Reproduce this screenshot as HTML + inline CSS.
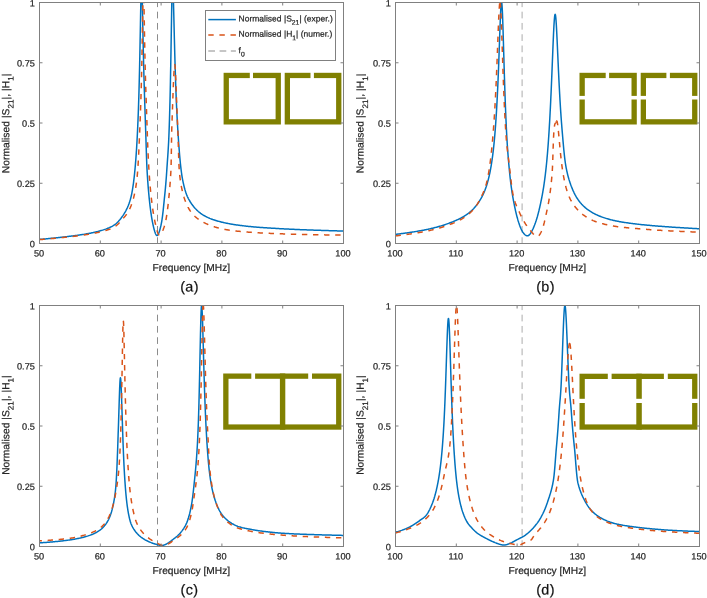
<!DOCTYPE html>
<html><head><meta charset="utf-8"><title>Normalised S21 and H1 versus frequency</title>
<style>
html,body{margin:0;padding:0;background:#fff;}
svg{display:block;will-change:transform;}
text{font-family:"Liberation Sans",Arial,Helvetica,sans-serif;fill:#262626;stroke:#262626;stroke-width:0.22px;}
.tk{font-size:9.2px;}
.lb{font-size:10.2px;}
.cap{font-size:14.4px;fill:#111;letter-spacing:0.35px;}
.lg{font-size:8.5px;}
</style></head><body>
<svg width="707" height="598" viewBox="0 0 707 598">
<rect width="707" height="598" fill="#fff"/>
<g opacity="0.999">
<g id="plot-a">
<clipPath id="clip-a"><rect x="39.5" y="2.5" width="304.0" height="241.0"/></clipPath>
<line x1="157.5" y1="2.5" x2="157.5" y2="243.5" stroke="#8c8c8c" stroke-width="1.0" stroke-dasharray="6.7 4.58" stroke-dashoffset="2.1"/>
<polyline clip-path="url(#clip-a)" points="39.50,239.40 40.26,239.34 41.02,239.28 41.78,239.21 42.54,239.15 43.30,239.08 44.06,239.02 44.82,238.95 45.58,238.88 46.34,238.81 47.10,238.74 47.86,238.67 48.62,238.60 49.38,238.52 50.14,238.45 50.90,238.37 51.66,238.30 52.42,238.22 53.18,238.15 53.94,238.07 54.70,237.99 55.46,237.91 56.22,237.83 56.98,237.75 57.74,237.67 58.50,237.58 59.26,237.50 60.02,237.42 60.78,237.33 61.54,237.25 62.30,237.16 63.06,237.07 63.82,236.99 64.58,236.90 65.34,236.81 66.10,236.72 66.86,236.63 67.62,236.54 68.38,236.45 69.14,236.36 69.90,236.27 70.66,236.18 71.42,236.08 72.18,235.99 72.94,235.89 73.70,235.80 74.46,235.70 75.22,235.60 75.98,235.50 76.74,235.39 77.50,235.29 78.26,235.18 79.02,235.07 79.78,234.96 80.54,234.85 81.30,234.73 82.06,234.61 82.82,234.49 83.58,234.37 84.34,234.25 85.10,234.12 85.86,233.99 86.62,233.86 87.38,233.72 88.14,233.58 88.90,233.44 89.66,233.29 90.42,233.14 91.18,232.99 91.94,232.84 92.70,232.68 93.46,232.51 94.22,232.34 94.98,232.17 95.74,231.99 96.50,231.81 97.26,231.62 98.02,231.42 98.78,231.22 99.54,231.01 100.30,230.80 101.06,230.58 101.82,230.35 102.58,230.12 103.34,229.89 104.10,229.64 104.86,229.39 105.62,229.13 106.38,228.85 107.14,228.57 107.90,228.27 108.66,227.96 109.42,227.64 110.18,227.29 110.94,226.93 111.70,226.55 112.46,226.15 113.22,225.71 113.98,225.22 114.74,224.68 115.50,224.09 116.26,223.45 117.02,222.76 117.78,222.01 118.54,221.22 119.30,220.37 120.06,219.47 120.82,218.51 121.58,217.50 122.34,216.43 123.10,215.31 123.40,214.84 123.56,214.61 123.71,214.37 123.86,214.13 124.01,213.89 124.16,213.64 124.32,213.39 124.47,213.14 124.62,212.89 124.77,212.64 124.92,212.38 125.08,212.12 125.23,211.86 125.38,211.59 125.53,211.32 125.68,211.04 125.84,210.76 125.99,210.48 126.14,210.19 126.29,209.90 126.44,209.61 126.60,209.30 126.75,209.00 126.90,208.69 127.05,208.37 127.20,208.04 127.36,207.71 127.51,207.38 127.66,207.04 127.81,206.69 127.96,206.33 128.12,205.96 128.27,205.59 128.42,205.21 128.57,204.82 128.72,204.42 128.88,204.01 129.03,203.59 129.18,203.16 129.33,202.72 129.48,202.27 129.64,201.81 129.79,201.33 129.94,200.85 130.09,200.34 130.24,199.83 130.40,199.30 130.55,198.75 130.70,198.19 130.85,197.61 131.00,197.00 131.16,196.37 131.31,195.71 131.46,195.02 131.61,194.30 131.76,193.56 131.92,192.78 132.07,191.98 132.22,191.14 132.37,190.28 132.52,189.38 132.68,188.44 132.83,187.48 132.98,186.48 133.13,185.44 133.28,184.36 133.44,183.25 133.59,182.09 133.74,180.90 133.89,179.66 134.04,178.38 134.20,177.05 134.35,175.67 134.50,174.25 134.65,172.77 134.80,171.24 134.96,169.65 135.11,168.00 135.26,166.30 135.41,164.52 135.56,162.68 135.72,160.78 135.87,158.79 136.02,156.73 136.17,154.58 136.32,152.35 136.48,150.03 136.63,147.60 136.78,145.08 136.93,142.44 137.08,139.69 137.24,136.81 137.39,133.79 137.54,130.64 137.69,127.33 137.84,123.87 138.00,120.25 138.15,116.43 138.30,112.41 138.45,108.16 138.60,103.67 138.76,98.91 138.91,93.85 139.06,88.49 139.21,82.78 139.36,76.73 139.52,70.30 139.67,63.49 139.82,56.30 139.97,48.74 140.12,40.87 140.28,32.74 140.43,24.48 140.58,16.24 140.73,8.24 140.88,0.77 141.04,-5.85 141.19,-11.24 141.34,-15.04 141.49,-16.95 141.64,-16.78 141.80,-14.75 141.95,-11.20 142.10,-6.28 142.25,-0.26 142.40,6.56 142.56,13.90 142.71,21.49 142.86,29.12 143.01,36.64 143.16,43.93 143.32,50.93 143.47,57.60 143.62,63.96 143.77,69.99 143.92,75.72 144.08,81.19 144.23,86.42 144.38,91.46 144.53,96.32 144.68,101.05 144.84,105.68 144.99,110.24 145.14,114.75 145.29,119.23 145.44,123.70 145.60,128.19 145.75,132.76 145.90,137.61 146.05,142.58 146.20,147.54 146.36,152.34 146.51,156.88 146.66,161.09 146.81,164.89 146.96,168.23 147.12,171.10 147.27,173.73 147.42,176.22 147.57,178.57 147.72,180.79 147.88,182.91 148.03,184.92 148.18,186.85 148.33,188.71 148.48,190.49 148.64,192.21 148.79,193.87 148.94,195.49 149.09,197.06 149.24,198.58 149.40,200.06 149.55,201.49 149.70,202.88 149.85,204.23 150.00,205.54 150.16,206.80 150.31,208.03 150.46,209.22 150.61,210.38 150.76,211.50 150.92,212.59 150.95,212.80 151.07,213.65 151.22,214.67 151.25,214.87 151.37,215.66 151.52,216.62 151.55,216.81 151.68,217.56 151.83,218.46 151.86,218.64 151.98,219.34 152.13,220.19 152.16,220.36 152.28,221.02 152.44,221.82 152.47,221.98 152.59,222.60 152.74,223.35 152.77,223.50 152.89,224.08 153.04,224.79 153.07,224.93 153.20,225.49 153.35,226.17 153.38,226.30 153.50,226.82 153.65,227.46 153.68,227.59 153.80,228.09 153.96,228.69 153.99,228.81 154.11,229.27 154.17,229.50 154.26,229.84 154.29,229.95 154.32,230.06 154.41,230.38 154.47,230.59 154.56,230.90 154.59,231.00 154.62,231.10 154.72,231.40 154.78,231.60 154.87,231.88 154.90,231.97 154.93,232.07 155.02,232.34 155.08,232.51 155.17,232.77 155.20,232.85 155.23,232.93 155.32,233.17 155.38,233.33 155.48,233.55 155.51,233.63 155.54,233.70 155.63,233.90 155.69,234.04 155.78,234.23 155.81,234.29 155.84,234.35 155.93,234.52 155.99,234.63 156.08,234.78 156.11,234.82 156.14,234.87 156.24,235.00 156.30,235.08 156.39,235.19 156.42,235.22 156.45,235.25 156.54,235.34 156.60,235.39 156.69,235.45 156.72,235.46 156.75,235.48 156.84,235.52 156.90,235.53 157.00,235.55 157.03,235.55 157.06,235.55 157.15,235.53 157.21,235.52 157.30,235.48 157.33,235.47 157.36,235.45 157.45,235.39 157.51,235.34 157.60,235.26 157.63,235.23 157.66,235.20 157.76,235.09 157.82,235.01 157.91,234.89 157.94,234.84 157.97,234.80 158.06,234.65 158.12,234.55 158.21,234.38 158.24,234.32 158.27,234.26 158.36,234.08 158.42,233.95 158.52,233.75 158.55,233.68 158.58,233.61 158.67,233.39 158.73,233.24 158.82,233.01 158.85,232.93 158.88,232.85 158.97,232.60 159.03,232.43 159.12,232.17 159.15,232.08 159.18,231.99 159.28,231.71 159.34,231.53 159.43,231.24 159.46,231.14 159.49,231.04 159.58,230.74 159.64,230.54 159.73,230.22 159.76,230.12 159.79,230.01 159.88,229.68 159.94,229.46 160.07,229.01 160.10,228.90 160.25,228.31 160.34,227.95 160.37,227.83 160.40,227.71 160.55,227.08 160.67,226.56 160.70,226.43 160.86,225.77 160.98,225.22 161.01,225.08 161.10,224.66 161.16,224.37 161.28,223.79 161.31,223.65 161.46,222.88 161.59,222.23 161.62,222.07 161.77,221.19 161.86,220.64 161.89,220.45 161.92,220.25 162.07,219.26 162.19,218.42 162.22,218.21 162.38,217.10 162.50,216.17 162.53,215.93 162.62,215.20 162.68,214.71 162.80,213.69 162.83,213.43 162.98,212.10 163.11,211.01 163.14,210.73 163.29,209.31 163.38,208.44 163.44,207.85 163.59,206.37 163.74,204.86 163.90,203.34 164.05,201.81 164.14,200.90 164.20,200.29 164.35,198.79 164.50,197.32 164.66,195.88 164.81,194.41 164.90,193.51 164.96,192.90 165.11,191.35 165.26,189.75 165.42,188.10 165.57,186.40 165.66,185.36 165.72,184.65 165.87,182.83 166.02,180.95 166.18,179.01 166.33,176.99 166.42,175.75 166.48,174.90 166.63,172.72 166.78,170.46 166.94,168.15 167.09,165.90 167.18,164.58 167.24,163.70 167.39,161.53 167.54,159.36 167.70,157.19 167.85,154.97 167.94,153.61 168.00,152.68 168.15,150.30 168.30,147.78 168.46,145.08 168.61,142.18 168.70,140.31 168.76,139.00 168.91,135.52 169.06,131.65 169.22,127.39 169.37,122.84 169.46,119.97 169.52,118.00 169.67,112.83 169.82,107.32 169.98,101.43 170.13,95.14 170.22,91.16 170.28,88.42 170.43,81.25 170.58,73.62 170.74,65.53 170.89,57.01 170.98,51.71 171.04,48.11 171.19,38.92 171.34,29.58 171.50,20.29 171.65,11.31 171.74,6.21 171.80,2.98 171.95,-4.35 172.10,-10.29 172.26,-14.51 172.41,-16.78 172.50,-17.12 172.56,-17.10 172.71,-16.24 172.86,-14.24 173.02,-11.22 173.17,-7.30 173.26,-4.59 173.32,-2.65 173.47,2.60 173.62,8.27 173.78,14.25 173.93,20.39 174.02,24.11 174.08,26.60 174.23,32.80 174.38,38.92 174.54,44.91 174.69,50.74 174.78,54.15 174.84,56.38 174.99,61.82 175.14,67.04 175.30,72.05 175.45,76.85 175.54,79.63 175.60,81.44 175.75,85.82 175.90,90.01 176.06,94.02 176.21,97.85 176.30,100.06 176.36,101.51 176.51,105.01 176.66,108.37 176.82,111.59 176.97,114.69 177.06,116.48 177.12,117.66 177.27,120.52 177.42,123.27 177.58,125.93 177.73,128.49 177.82,129.99 177.88,130.97 178.03,133.39 178.18,135.75 178.34,138.04 178.49,140.27 178.58,141.59 178.64,142.45 178.79,144.56 178.94,146.62 179.10,148.61 179.25,150.55 179.34,151.68 179.40,152.43 179.55,154.25 179.70,156.02 179.86,157.73 180.01,159.39 180.10,160.35 180.16,160.99 180.31,162.53 180.46,164.03 180.62,165.46 180.77,166.85 180.86,167.66 180.92,168.19 181.07,169.47 181.22,170.70 181.38,171.88 181.53,173.01 181.62,173.67 181.68,174.09 181.83,175.12 181.98,176.10 182.14,177.04 182.29,177.92 182.38,178.43 182.44,178.76 182.59,179.57 182.74,180.36 182.90,181.12 183.05,181.86 183.14,182.29 183.20,182.58 183.35,183.28 183.50,183.96 183.66,184.62 183.81,185.27 183.90,185.65 183.96,185.90 184.11,186.51 184.26,187.11 184.42,187.69 184.57,188.26 184.66,188.59 184.72,188.81 184.87,189.35 185.02,189.88 185.18,190.40 185.33,190.90 185.42,191.20 185.48,191.40 185.63,191.88 185.78,192.35 185.94,192.80 186.09,193.24 186.18,193.49 186.24,193.66 186.39,194.08 186.54,194.48 186.70,194.87 186.85,195.25 186.94,195.47 187.00,195.62 187.15,195.98 187.30,196.33 187.46,196.67 187.61,197.01 187.70,197.20 187.76,197.33 187.91,197.65 188.06,197.96 188.22,198.27 188.37,198.57 188.46,198.74 188.52,198.86 188.67,199.14 188.82,199.42 188.98,199.70 189.13,199.97 189.22,200.13 189.28,200.23 189.43,200.49 189.58,200.75 189.74,201.00 189.89,201.25 189.98,201.40 190.04,201.50 190.19,201.74 190.34,201.98 190.50,202.22 190.65,202.45 190.74,202.59 191.50,203.74 192.26,204.82 193.02,205.84 193.78,206.79 194.54,207.69 195.30,208.54 196.06,209.34 196.82,210.09 197.58,210.80 198.34,211.47 199.10,212.11 199.86,212.72 200.62,213.29 201.38,213.83 202.14,214.35 202.90,214.84 203.66,215.30 204.42,215.74 205.18,216.16 205.94,216.56 206.70,216.95 207.46,217.31 208.22,217.67 208.98,218.00 209.74,218.33 210.50,218.64 211.26,218.93 212.02,219.22 212.78,219.50 213.54,219.76 214.30,220.02 215.06,220.27 215.82,220.51 216.58,220.74 217.34,220.96 218.10,221.18 218.86,221.39 219.62,221.59 220.38,221.79 221.14,221.98 221.90,222.17 222.66,222.35 223.42,222.53 224.18,222.70 224.94,222.87 225.70,223.03 226.46,223.19 227.22,223.34 227.98,223.49 228.74,223.63 229.50,223.77 230.26,223.91 231.02,224.05 231.78,224.18 232.54,224.30 233.30,224.43 234.06,224.55 234.82,224.66 235.58,224.78 236.34,224.89 237.10,225.00 237.86,225.11 238.62,225.21 239.38,225.31 240.14,225.41 240.90,225.51 241.66,225.60 242.42,225.70 243.18,225.79 243.94,225.88 244.70,225.97 245.46,226.05 246.22,226.13 246.98,226.22 247.74,226.30 248.50,226.38 249.26,226.45 250.02,226.53 250.78,226.61 251.54,226.68 252.30,226.75 253.06,226.82 253.82,226.89 254.58,226.96 255.34,227.02 256.10,227.09 256.86,227.15 257.62,227.21 258.38,227.27 259.14,227.33 259.90,227.39 260.66,227.45 261.42,227.50 262.18,227.56 262.94,227.61 263.70,227.66 264.46,227.72 265.22,227.77 265.98,227.82 266.74,227.87 267.50,227.91 268.26,227.96 269.02,228.01 269.78,228.06 270.54,228.10 271.30,228.15 272.06,228.20 272.82,228.24 273.58,228.28 274.34,228.33 275.10,228.37 275.86,228.42 276.62,228.46 277.38,228.50 278.14,228.54 278.90,228.59 279.66,228.63 280.42,228.67 281.18,228.71 281.94,228.76 282.70,228.80 283.46,228.84 284.22,228.88 284.98,228.92 285.74,228.96 286.50,229.00 287.26,229.04 288.02,229.08 288.78,229.12 289.54,229.15 290.30,229.19 291.06,229.23 291.82,229.26 292.58,229.30 293.34,229.33 294.10,229.37 294.86,229.40 295.62,229.43 296.38,229.47 297.14,229.50 297.90,229.53 298.66,229.56 299.42,229.60 300.18,229.63 300.94,229.66 301.70,229.69 302.46,229.72 303.22,229.75 303.98,229.78 304.74,229.81 305.50,229.84 306.26,229.87 307.02,229.89 307.78,229.92 308.54,229.95 309.30,229.98 310.06,230.00 310.82,230.03 311.58,230.06 312.34,230.09 313.10,230.11 313.86,230.14 314.62,230.17 315.38,230.19 316.14,230.22 316.90,230.24 317.66,230.27 318.42,230.29 319.18,230.32 319.94,230.34 320.70,230.37 321.46,230.39 322.22,230.42 322.98,230.44 323.74,230.47 324.50,230.49 325.26,230.52 326.02,230.54 326.78,230.56 327.54,230.59 328.30,230.61 329.06,230.64 329.82,230.66 330.58,230.68 331.34,230.71 332.10,230.73 332.86,230.76 333.62,230.78 334.38,230.80 335.14,230.83 335.90,230.85 336.66,230.87 337.42,230.90 338.18,230.92 338.94,230.95 339.70,230.97 340.46,230.99 341.22,231.02 341.98,231.04 342.74,231.06 343.50,231.09" fill="none" stroke="#0072BD" stroke-width="1.5" stroke-linejoin="round"/>
<polyline clip-path="url(#clip-a)" points="39.50,239.64 40.26,239.59 41.02,239.53 41.78,239.47 42.54,239.40 43.30,239.34 44.06,239.28 44.82,239.22 45.58,239.15 46.34,239.09 47.10,239.02 47.86,238.96 48.62,238.89 49.38,238.82 50.14,238.75 50.90,238.68 51.66,238.61 52.42,238.54 53.18,238.47 53.94,238.40 54.70,238.32 55.46,238.25 56.22,238.18 56.98,238.10 57.74,238.03 58.50,237.95 59.26,237.87 60.02,237.80 60.78,237.72 61.54,237.64 62.30,237.56 63.06,237.48 63.82,237.40 64.58,237.32 65.34,237.24 66.10,237.16 66.86,237.08 67.62,237.00 68.38,236.92 69.14,236.83 69.90,236.75 70.66,236.67 71.42,236.58 72.18,236.50 72.94,236.41 73.70,236.32 74.46,236.23 75.22,236.14 75.98,236.05 76.74,235.96 77.50,235.86 78.26,235.77 79.02,235.67 79.78,235.57 80.54,235.47 81.30,235.36 82.06,235.26 82.82,235.15 83.58,235.04 84.34,234.93 85.10,234.82 85.86,234.70 86.62,234.58 87.38,234.46 88.14,234.34 88.90,234.21 89.66,234.08 90.42,233.95 91.18,233.82 91.94,233.68 92.70,233.54 93.46,233.40 94.22,233.25 94.98,233.10 95.74,232.95 96.50,232.79 97.26,232.63 98.02,232.46 98.78,232.29 99.54,232.11 100.30,231.93 101.06,231.75 101.82,231.56 102.58,231.37 103.34,231.17 104.10,230.96 104.86,230.75 105.62,230.54 106.38,230.31 107.14,230.08 107.90,229.83 108.66,229.58 109.42,229.31 110.18,229.03 110.94,228.73 111.70,228.41 112.46,228.08 113.22,227.70 113.98,227.27 114.74,226.79 115.50,226.25 116.26,225.66 117.02,225.02 117.78,224.33 118.54,223.60 119.30,222.83 120.06,222.02 120.82,221.18 121.58,220.32 122.34,219.44 123.10,218.54 123.86,217.64 124.62,216.75 125.23,216.02 125.38,215.83 125.53,215.64 125.68,215.44 125.84,215.24 125.99,215.04 126.14,214.84 126.29,214.63 126.44,214.42 126.60,214.20 126.75,213.98 126.90,213.76 127.05,213.53 127.20,213.30 127.36,213.07 127.51,212.83 127.66,212.59 127.81,212.34 127.96,212.09 128.12,211.83 128.27,211.57 128.42,211.31 128.57,211.04 128.72,210.76 128.88,210.48 129.03,210.20 129.18,209.90 129.33,209.61 129.48,209.30 129.64,208.99 129.79,208.67 129.94,208.35 130.09,208.02 130.24,207.68 130.40,207.34 130.55,206.99 130.70,206.63 130.85,206.26 131.00,205.88 131.16,205.50 131.31,205.10 131.46,204.70 131.61,204.29 131.76,203.86 131.92,203.43 132.07,202.99 132.22,202.53 132.37,202.07 132.52,201.59 132.68,201.10 132.83,200.59 132.98,200.07 133.13,199.54 133.28,198.99 133.44,198.43 133.59,197.85 133.74,197.25 133.89,196.64 134.04,196.01 134.20,195.36 134.35,194.68 134.50,193.99 134.65,193.28 134.80,192.54 134.96,191.77 135.11,190.98 135.26,190.17 135.41,189.32 135.56,188.44 135.72,187.54 135.87,186.59 136.02,185.62 136.17,184.60 136.32,183.55 136.48,182.45 136.63,181.31 136.78,180.12 136.93,178.83 137.08,177.40 137.24,175.83 137.39,174.12 137.54,172.27 137.69,170.28 137.84,168.14 138.00,165.87 138.15,163.46 138.30,160.91 138.45,158.22 138.60,155.40 138.76,152.44 138.91,149.36 139.06,146.16 139.21,142.84 139.36,139.40 139.52,135.86 139.67,132.22 139.82,128.49 139.97,124.71 140.12,120.86 140.28,116.92 140.43,112.86 140.58,108.64 140.73,104.23 140.88,99.59 141.04,94.67 141.19,89.44 141.34,83.84 141.49,77.83 141.64,71.36 141.80,64.41 141.95,56.94 142.10,48.97 142.25,40.54 142.40,31.77 142.56,22.85 142.71,14.10 142.86,5.95 143.01,-1.06 143.16,-6.32 143.32,-9.28 143.47,-9.55" fill="none" stroke="#D95319" stroke-width="1.5" stroke-dasharray="5.4 5.7" stroke-dashoffset="0.00" stroke-linejoin="round"/>
<polyline clip-path="url(#clip-a)" points="143.47,-9.55 143.62,-7.30 143.77,-2.92 143.92,3.23 144.08,10.67 144.23,18.85 144.38,27.33 144.53,35.75 144.68,43.86 144.84,51.53 144.99,58.70 145.14,65.35 145.29,71.51 145.44,77.24 145.60,82.58 145.75,87.60 145.90,92.37 146.05,96.95 146.20,101.40 146.36,105.78 146.51,110.14 146.66,114.51 146.81,118.94 146.96,123.46 147.12,128.10 147.27,132.79 147.42,137.21 147.57,141.36 147.72,145.27 147.88,148.95 148.03,152.42 148.18,155.70 148.33,158.80 148.48,161.75 148.64,164.54 148.79,167.20 148.94,169.72 149.09,172.13 149.24,174.43 149.40,176.63 149.55,178.73 149.70,180.74 149.85,182.67 150.00,184.52 150.16,186.29 150.31,188.00 150.46,189.64 150.61,191.23 150.76,192.75 150.92,194.22 151.07,195.64 151.22,197.02 151.37,198.35 151.52,199.65 151.68,200.93 151.83,202.16 151.98,203.37 152.13,204.56 152.28,205.71 152.44,206.83 152.59,207.93 152.74,209.00 152.89,210.04 153.04,211.06 153.20,212.05 153.35,213.02 153.38,213.21 153.50,213.96 153.65,214.88 153.68,215.06 153.80,215.78 153.96,216.65 153.99,216.82 154.11,217.50 154.26,218.32 154.29,218.49 154.41,219.13 154.56,219.91 154.59,220.06 154.72,220.67 154.87,221.41 154.90,221.55 155.02,222.13 155.17,222.82 155.20,222.96 155.32,223.50 155.48,224.17 155.51,224.30 155.63,224.84 155.78,225.53 155.81,225.66 155.93,226.20 156.08,226.87 156.11,227.01 156.24,227.53 156.36,228.05 156.39,228.18 156.42,228.31 156.51,228.68 156.54,228.81 156.66,229.29 156.69,229.41 156.72,229.53 156.81,229.88 156.84,229.99 156.97,230.44 157.00,230.55 157.03,230.66 157.12,230.97 157.15,231.08 157.27,231.48 157.30,231.58 157.33,231.67 157.42,231.95 157.45,232.05 157.57,232.40 157.60,232.48 157.63,232.57 157.73,232.81 157.76,232.89 157.88,233.19 157.91,233.26 157.94,233.33 158.03,233.53 158.06,233.60 158.18,233.84 158.21,233.90 158.24,233.96 158.33,234.12 158.36,234.17 158.49,234.36 158.52,234.41 158.55,234.45 158.64,234.57 158.67,234.61 158.79,234.74 158.82,234.77 158.85,234.80 158.94,234.88 158.97,234.90 159.09,234.98 159.12,234.99 159.15,235.01 159.25,235.04 159.28,235.05 159.40,235.07 159.43,235.07 159.46,235.06 159.55,235.06 159.58,235.05 159.70,235.02 159.73,235.02 159.76,235.01 159.85,234.97 159.88,234.96 160.01,234.90 160.04,234.88 160.07,234.86 160.16,234.80 160.19,234.78 160.31,234.69 160.34,234.66 160.37,234.64 160.46,234.55 160.49,234.52 160.61,234.40 160.64,234.37 160.67,234.34 160.77,234.23 160.80,234.20 160.92,234.04 160.95,234.00 160.98,233.96 161.07,233.84 161.10,233.80 161.22,233.62 161.25,233.58 161.28,233.53 161.37,233.39 161.40,233.34 161.53,233.14 161.56,233.09 161.59,233.03 161.68,232.87 161.71,232.82 161.83,232.60 161.86,232.54 161.89,232.48 161.98,232.30 162.13,232.00 162.19,231.88 162.29,231.68 162.44,231.36 162.50,231.22 162.59,231.01 162.62,230.95 162.74,230.66 162.80,230.52 162.89,230.30 163.05,229.92 163.11,229.76 163.20,229.53 163.35,229.13 163.38,229.05 163.41,228.96 163.50,228.71 163.65,228.29 163.71,228.11 163.81,227.85 163.96,227.40 164.02,227.21 164.11,226.93 164.14,226.84 164.26,226.45 164.32,226.26 164.41,225.96 164.57,225.45 164.63,225.24 164.72,224.93 164.87,224.39 164.90,224.28 164.93,224.17 165.02,223.84 165.17,223.27 165.23,223.03 165.33,222.66 165.48,222.02 165.54,221.75 165.63,221.34 165.66,221.20 165.78,220.62 165.93,219.87 166.09,219.07 166.24,218.23 166.39,217.36 166.42,217.18 166.54,216.44 166.69,215.48 166.85,214.48 167.00,213.44 167.15,212.35 167.18,212.13 167.30,211.23 167.45,210.06 167.61,208.85 167.76,207.61 167.91,206.32 167.94,206.06 168.06,205.00 168.21,203.65 168.37,202.26 168.52,200.84 168.67,199.40 168.70,199.11 168.82,197.93 168.97,196.45 169.13,194.91 169.28,193.32 169.43,191.66 169.46,191.32 169.58,189.93 169.73,188.12 169.89,186.23 170.04,184.25 170.19,182.17 170.22,181.74 170.34,179.98 170.49,177.68 170.65,175.26 170.80,172.70 170.95,170.00 170.98,169.36 171.10,165.42 171.25,157.85 171.41,148.39 171.56,138.65 171.71,131.01 171.74,129.99 171.86,126.35 172.01,121.87 172.17,117.46 172.32,113.13 172.47,108.87 172.50,108.02 172.62,104.67 172.77,100.53 172.93,96.46 173.08,92.48 173.23,88.59 173.26,87.83 173.38,84.84 173.53,81.26 173.69,77.90 173.84,74.81 173.99,72.06 174.02,71.55 174.14,69.68 174.29,67.73 174.45,66.22 174.60,65.16" fill="none" stroke="#D95319" stroke-width="1.5" stroke-dasharray="5.4 5.7" stroke-dashoffset="3.59" stroke-linejoin="round"/>
<polyline clip-path="url(#clip-a)" points="174.60,65.16 174.75,64.64 174.78,64.63 174.90,64.97 175.05,66.14 175.21,68.04 175.36,70.57 175.51,73.60 175.54,74.26 175.66,77.01 175.81,80.68 175.97,84.51 176.12,88.42 176.27,92.36 176.30,93.15 176.42,96.28 176.57,100.16 176.73,103.98 176.88,107.74 177.03,111.43 177.06,112.17 177.18,115.07 177.33,118.67 177.49,122.22 177.64,125.76 177.79,129.28 177.82,129.99 177.94,133.10 178.09,137.64 178.25,142.61 178.40,147.72 178.55,152.73 178.58,153.71 178.70,157.46 178.85,161.74 179.01,165.47 179.16,168.53 179.31,170.84 179.34,171.20 179.46,172.55 179.61,174.12 179.77,175.59 179.92,176.95 180.07,178.23 180.10,178.47 180.22,179.42 180.37,180.53 180.53,181.58 180.68,182.57 180.83,183.51 180.86,183.69 180.98,184.40 181.13,185.24 181.29,186.05 181.44,186.83 181.59,187.58 181.62,187.73 181.74,188.31 181.89,189.02 182.05,189.71 182.20,190.39 182.35,191.07 182.38,191.20 182.50,191.73 182.65,192.37 182.81,192.99 182.96,193.59 183.11,194.16 183.14,194.28 183.26,194.72 183.41,195.26 183.57,195.79 183.72,196.30 183.87,196.80 183.90,196.90 184.02,197.28 184.17,197.76 184.33,198.22 184.48,198.68 184.63,199.12 184.66,199.21 184.78,199.56 184.93,199.99 185.09,200.41 185.24,200.83 185.39,201.24 185.42,201.32 185.54,201.65 185.69,202.05 185.85,202.44 186.00,202.82 186.15,203.19 186.18,203.26 186.30,203.55 186.45,203.91 186.61,204.26 186.76,204.60 186.91,204.94 186.94,205.00 187.06,205.26 187.21,205.59 187.37,205.90 187.52,206.21 187.67,206.52 187.70,206.58 187.82,206.82 187.97,207.11 188.13,207.40 188.28,207.68 188.43,207.96 188.46,208.01 188.58,208.23 188.73,208.50 188.89,208.76 189.04,209.02 189.19,209.27 189.22,209.32 189.34,209.52 189.49,209.77 189.65,210.01 189.80,210.25 189.95,210.48 189.98,210.52 190.10,210.71 190.25,210.93 190.41,211.16 190.56,211.37 190.71,211.59 190.74,211.63 190.86,211.80 191.01,212.01 191.17,212.21 191.32,212.41 191.47,212.61 191.50,212.65 191.62,212.81 191.77,213.00 191.93,213.19 192.08,213.37 192.23,213.56 192.26,213.59 192.38,213.74 192.53,213.91 192.69,214.09 192.84,214.26 193.02,214.46 193.78,215.27 194.54,216.02 195.30,216.72 196.06,217.38 196.82,218.00 197.58,218.59 198.34,219.14 199.10,219.67 199.86,220.18 200.62,220.66 201.38,221.12 202.14,221.57 202.90,222.00 203.66,222.41 204.42,222.81 205.18,223.20 205.94,223.57 206.70,223.92 207.46,224.26 208.22,224.59 208.98,224.90 209.74,225.20 210.50,225.49 211.26,225.77 212.02,226.04 212.78,226.30 213.54,226.55 214.30,226.79 215.06,227.03 215.82,227.25 216.58,227.47 217.34,227.68 218.10,227.88 218.86,228.08 219.62,228.27 220.38,228.45 221.14,228.63 221.90,228.80 222.66,228.96 223.42,229.12 224.18,229.27 224.94,229.42 225.70,229.56 226.46,229.69 227.22,229.82 227.98,229.95 228.74,230.06 229.50,230.18 230.26,230.29 231.02,230.40 231.78,230.50 232.54,230.60 233.30,230.70 234.06,230.79 234.82,230.88 235.58,230.97 236.34,231.06 237.10,231.14 237.86,231.22 238.62,231.29 239.38,231.37 240.14,231.44 240.90,231.51 241.66,231.58 242.42,231.65 243.18,231.72 243.94,231.78 244.70,231.84 245.46,231.90 246.22,231.96 246.98,232.02 247.74,232.08 248.50,232.14 249.26,232.20 250.02,232.25 250.78,232.31 251.54,232.36 252.30,232.41 253.06,232.47 253.82,232.52 254.58,232.57 255.34,232.62 256.10,232.67 256.86,232.71 257.62,232.76 258.38,232.80 259.14,232.84 259.90,232.89 260.66,232.93 261.42,232.97 262.18,233.01 262.94,233.05 263.70,233.09 264.46,233.12 265.22,233.16 265.98,233.20 266.74,233.23 267.50,233.26 268.26,233.30 269.02,233.33 269.78,233.36 270.54,233.40 271.30,233.43 272.06,233.46 272.82,233.49 273.58,233.52 274.34,233.55 275.10,233.58 275.86,233.61 276.62,233.64 277.38,233.67 278.14,233.69 278.90,233.72 279.66,233.75 280.42,233.78 281.18,233.81 281.94,233.83 282.70,233.86 283.46,233.89 284.22,233.91 284.98,233.94 285.74,233.96 286.50,233.99 287.26,234.01 288.02,234.04 288.78,234.06 289.54,234.09 290.30,234.11 291.06,234.13 291.82,234.15 292.58,234.17 293.34,234.20 294.10,234.22 294.86,234.24 295.62,234.26 296.38,234.28 297.14,234.30 297.90,234.32 298.66,234.34 299.42,234.36 300.18,234.38 300.94,234.39 301.70,234.41 302.46,234.43 303.22,234.45 303.98,234.47 304.74,234.48 305.50,234.50 306.26,234.52 307.02,234.53 307.78,234.55 308.54,234.57 309.30,234.58 310.06,234.60 310.82,234.61 311.58,234.63 312.34,234.64 313.10,234.66 313.86,234.67 314.62,234.69 315.38,234.70 316.14,234.72 316.90,234.73 317.66,234.74 318.42,234.76 319.18,234.77 319.94,234.79 320.70,234.80 321.46,234.81 322.22,234.83 322.98,234.84 323.74,234.85 324.50,234.86 325.26,234.88 326.02,234.89 326.78,234.90 327.54,234.91 328.30,234.93 329.06,234.94 329.82,234.95 330.58,234.96 331.34,234.98 332.10,234.99 332.86,235.00 333.62,235.01 334.38,235.02 335.14,235.04 335.90,235.05 336.66,235.06 337.42,235.07 338.18,235.08 338.94,235.09 339.70,235.10 340.46,235.12 341.22,235.13 341.98,235.14 342.74,235.15 343.50,235.16" fill="none" stroke="#D95319" stroke-width="1.5" stroke-dasharray="5.4 5.7" stroke-dashoffset="0.00" stroke-linejoin="round"/>
<rect x="226.25" y="75.45" width="51.999999999999986" height="46.400000000000006" fill="none" stroke="#808000" stroke-width="5.3"/>
<rect x="287.34999999999997" y="75.45" width="51.39999999999999" height="46.400000000000006" fill="none" stroke="#808000" stroke-width="5.3"/>
<rect x="249.8" y="71.8" width="3.1999999999999886" height="7.3" fill="#fff"/>
<rect x="310.5" y="71.8" width="3.3999999999999773" height="7.3" fill="#fff"/>
<rect x="39.5" y="2.5" width="304.0" height="241.0" fill="none" stroke="#808080" stroke-width="1.0"/>
<path d="M100.30 243.5v-3M100.30 2.5v3M161.10 243.5v-3M161.10 2.5v3M221.90 243.5v-3M221.90 2.5v3M282.70 243.5v-3M282.70 2.5v3M39.5 183.25h3M343.5 183.25h-3M39.5 123.00h3M343.5 123.00h-3M39.5 62.75h3M343.5 62.75h-3" stroke="#808080" stroke-width="1.0" fill="none"/>
<text class="tk" transform="rotate(0.05 39.00 256.4)" x="39.00" y="256.4" text-anchor="middle">50</text>
<text class="tk" transform="rotate(0.05 99.80 256.4)" x="99.80" y="256.4" text-anchor="middle">60</text>
<text class="tk" transform="rotate(0.05 160.60 256.4)" x="160.60" y="256.4" text-anchor="middle">70</text>
<text class="tk" transform="rotate(0.05 221.40 256.4)" x="221.40" y="256.4" text-anchor="middle">80</text>
<text class="tk" transform="rotate(0.05 282.20 256.4)" x="282.20" y="256.4" text-anchor="middle">90</text>
<text class="tk" transform="rotate(0.05 343.00 256.4)" x="343.00" y="256.4" text-anchor="middle">100</text>
<text class="tk" transform="rotate(0.05 34.9 247.30)" x="34.9" y="247.30" text-anchor="end">0</text>
<text class="tk" transform="rotate(0.05 34.9 187.05)" x="34.9" y="187.05" text-anchor="end">0.25</text>
<text class="tk" transform="rotate(0.05 34.9 126.80)" x="34.9" y="126.80" text-anchor="end">0.5</text>
<text class="tk" transform="rotate(0.05 34.9 66.55)" x="34.9" y="66.55" text-anchor="end">0.75</text>
<text class="tk" transform="rotate(0.05 34.9 6.60)" x="34.9" y="6.60" text-anchor="end">1</text>
<text class="lb" transform="rotate(0.05 191.3 271.0)" x="191.3" y="271.0" text-anchor="middle">Frequency [MHz]</text>
<text class="cap" transform="rotate(0.05 189.5 291.5)" x="189.5" y="291.5" text-anchor="middle">(a)</text>
<text class="lb" letter-spacing="0.07" transform="translate(9.2,123.4) rotate(-89.95)" text-anchor="middle">Normalised |S<tspan dy="4.3" font-size="8.0">21</tspan><tspan dy="-4.3">|, |H</tspan><tspan dy="4.3" font-size="8.0">1</tspan><tspan dy="-4.3">|</tspan></text>
</g>
<g id="plot-b">
<clipPath id="clip-b"><rect x="395.5" y="2.5" width="304.0" height="241.0"/></clipPath>
<line x1="522.1" y1="2.5" x2="522.1" y2="243.5" stroke="#8c8c8c" stroke-width="0.72" stroke-dasharray="6.7 4.58" stroke-dashoffset="2.1"/>
<polyline clip-path="url(#clip-b)" points="395.50,234.34 396.26,234.25 397.02,234.16 397.78,234.07 398.54,233.98 399.30,233.89 400.06,233.79 400.82,233.70 401.58,233.60 402.34,233.50 403.10,233.40 403.86,233.30 404.62,233.20 405.38,233.10 406.14,232.99 406.90,232.89 407.66,232.78 408.42,232.67 409.18,232.56 409.94,232.45 410.70,232.34 411.46,232.22 412.22,232.11 412.98,231.99 413.74,231.87 414.50,231.75 415.26,231.62 416.02,231.50 416.78,231.37 417.54,231.24 418.30,231.11 419.06,230.98 419.82,230.84 420.58,230.71 421.34,230.57 422.10,230.43 422.86,230.29 423.62,230.14 424.38,229.99 425.14,229.84 425.90,229.69 426.66,229.54 427.42,229.38 428.18,229.21 428.94,229.05 429.70,228.88 430.46,228.71 431.22,228.53 431.98,228.35 432.74,228.17 433.50,227.98 434.26,227.79 435.02,227.59 435.78,227.39 436.54,227.19 437.30,226.98 438.06,226.77 438.82,226.55 439.58,226.33 440.34,226.11 441.10,225.88 441.86,225.65 442.62,225.41 443.38,225.17 444.14,224.92 444.90,224.67 445.66,224.41 446.42,224.15 447.18,223.89 447.94,223.62 448.70,223.34 449.46,223.06 450.22,222.77 450.98,222.48 451.74,222.18 452.50,221.88 453.26,221.57 454.02,221.25 454.78,220.93 455.54,220.60 456.30,220.27 457.06,219.92 457.82,219.57 458.58,219.21 459.34,218.84 460.10,218.46 460.86,218.06 461.62,217.66 462.38,217.24 463.14,216.80 463.90,216.35 464.66,215.88 465.42,215.40 466.18,214.90 466.94,214.37 467.70,213.82 468.46,213.25 469.22,212.66 469.98,212.03 470.74,211.38 471.50,210.69 472.26,209.97 473.02,209.22 473.78,208.43 474.54,207.60 475.30,206.72 476.06,205.81 476.82,204.84 477.58,203.83 478.34,202.75 479.10,201.62 479.86,200.42 480.62,199.16 481.38,197.81 482.14,196.39 482.90,194.87 483.48,193.65 483.63,193.31 483.66,193.24 483.78,192.97 483.93,192.63 484.09,192.27 484.24,191.92 484.39,191.56 484.42,191.48 484.54,191.19 484.69,190.81 484.85,190.43 485.00,190.04 485.15,189.65 485.18,189.57 485.30,189.25 485.45,188.84 485.61,188.42 485.76,188.00 485.91,187.57 485.94,187.48 486.06,187.13 486.21,186.68 486.37,186.22 486.52,185.75 486.67,185.27 486.70,185.18 486.82,184.79 486.97,184.29 487.13,183.79 487.28,183.27 487.43,182.75 487.46,182.64 487.58,182.22 487.73,181.67 487.89,181.12 488.04,180.55 488.19,179.97 488.22,179.85 488.34,179.38 488.49,178.78 488.65,178.16 488.80,177.54 488.95,176.90 488.98,176.77 489.10,176.24 489.25,175.57 489.41,174.89 489.56,174.19 489.71,173.48 489.74,173.33 489.86,172.75 490.01,172.00 490.17,171.23 490.32,170.45 490.47,169.65 490.50,169.49 490.62,168.83 490.77,167.99 490.93,167.13 491.08,166.25 491.23,165.34 491.26,165.16 491.38,164.42 491.53,163.47 491.69,162.49 491.84,161.49 491.99,160.46 492.02,160.26 492.14,159.41 492.29,158.33 492.45,157.21 492.60,156.07 492.75,154.89 492.78,154.65 492.90,153.68 493.05,152.44 493.21,151.16 493.36,149.84 493.51,148.48 493.54,148.20 493.66,147.08 493.81,145.64 493.97,144.15 494.12,142.62 494.27,141.03 494.30,140.71 494.42,139.40 494.57,137.71 494.73,135.97 494.88,134.17 495.03,132.31 495.06,131.93 495.18,130.38 495.33,128.39 495.49,126.35 495.64,124.25 495.79,122.08 495.82,121.64 495.94,119.85 496.09,117.54 496.25,115.17 496.40,112.71 496.55,110.18 496.58,109.66 496.70,107.56 496.85,104.85 497.01,102.06 497.16,99.16 497.31,96.17 497.34,95.56 497.46,93.08 497.61,89.88 497.77,86.58 497.92,83.16 498.07,79.64 498.10,78.92 498.22,76.01 498.37,72.26 498.53,68.41 498.68,64.46 498.83,60.41 498.86,59.58 498.98,56.27 499.13,52.06 499.29,47.79 499.44,43.48 499.59,39.16 499.62,38.30 499.74,34.86 499.89,30.61 500.05,26.46 500.20,22.45 500.35,18.63 500.38,17.90 500.50,15.07 500.65,11.81 500.81,8.93 500.96,6.48 501.11,4.53 501.14,4.20 501.26,3.12 501.41,2.29 501.57,2.08 501.72,2.50 501.87,3.56 501.90,3.85 502.02,5.27 502.17,7.59 502.33,10.47 502.48,13.88 502.63,17.74 502.66,18.56 502.78,21.99 502.93,26.56 503.09,31.39 503.24,36.42 503.39,41.57 503.42,42.61 503.54,46.81 503.69,52.07 503.85,57.33 504.00,62.55 504.15,67.70 504.18,68.72 504.30,72.76 504.45,77.70 504.61,82.52 504.76,87.21 504.91,91.75 504.94,92.65 505.06,96.16 505.21,100.41 505.37,104.52 505.52,108.48 505.67,112.30 505.70,113.05 505.82,115.98 505.97,119.52 506.13,122.93 506.28,126.21 506.43,129.37 506.46,129.99 506.58,132.39 506.73,135.26 506.89,137.98 507.04,140.56 507.19,143.03 507.22,143.51 507.34,145.38 507.49,147.63 507.65,149.79 507.80,151.87 507.95,153.87 507.98,154.26 508.10,155.80 508.25,157.67 508.41,159.49 508.56,161.26 508.71,162.99 508.74,163.34 508.86,164.69 509.01,166.35 509.17,167.98 509.32,169.60 509.47,171.18 509.50,171.50 509.62,172.73 509.77,174.22 509.93,175.68 510.08,177.09 510.23,178.46 510.26,178.72 510.38,179.79 510.53,181.08 510.69,182.34 510.84,183.56 510.99,184.76 511.02,184.99 511.14,185.92 511.29,187.05 511.45,188.15 511.60,189.22 511.75,190.27 511.78,190.48 511.90,191.29 512.05,192.29 512.21,193.26 512.36,194.21 512.51,195.14 512.54,195.32 512.66,196.04 512.81,196.93 512.97,197.79 513.12,198.64 513.27,199.47 513.30,199.63 513.42,200.28 513.57,201.08 513.73,201.88 513.88,202.67 514.03,203.46 514.06,203.61 514.18,204.23 514.33,205.00 514.49,205.76 514.64,206.51 514.79,207.26 514.82,207.40 514.94,207.99 515.09,208.71 515.25,209.42 515.40,210.12 515.55,210.81 515.58,210.94 515.70,211.48 515.85,212.14 516.01,212.80 516.16,213.44 516.31,214.06 516.34,214.19 516.46,214.68 516.61,215.28 516.77,215.87 516.92,216.44 517.07,217.00 517.10,217.11 517.22,217.55 517.37,218.09 517.53,218.62 517.68,219.14 517.83,219.65 517.86,219.76 517.98,220.16 518.13,220.67 518.29,221.17 518.44,221.66 518.59,222.14 518.62,222.24 518.74,222.62 518.89,223.09 519.05,223.55 519.20,224.01 519.35,224.45 519.38,224.54 519.50,224.89 519.65,225.32 519.81,225.73 519.96,226.14 520.14,226.62 520.90,228.48 521.66,230.10 521.96,230.69 522.27,231.24 522.42,231.50 522.57,231.75 522.88,232.23 523.18,232.67 523.48,233.08 523.79,233.46 523.94,233.64 524.09,233.81 524.40,234.14 524.70,234.44 525.00,234.72 525.31,234.97 525.46,235.09 525.61,235.19 525.92,235.39 526.22,235.55 526.52,235.67 526.83,235.76 526.98,235.79 527.13,235.81 527.44,235.82 527.74,235.79 528.04,235.71 528.35,235.59 528.50,235.50 528.65,235.41 528.96,235.19 529.26,234.92 529.56,234.61 529.87,234.26 530.02,234.07 530.17,233.88 530.48,233.45 530.78,233.00 531.08,232.51 531.39,231.99 531.54,231.72 531.69,231.45 532.00,230.88 532.30,230.28 532.60,229.66 532.91,229.02 533.06,228.69 533.21,228.35 533.52,227.66 533.82,226.95 534.58,225.06 535.34,223.01 536.10,220.79 536.74,218.76 536.86,218.36 536.89,218.26 537.04,217.74 537.19,217.22 537.35,216.69 537.50,216.15 537.62,215.72 537.65,215.61 537.80,215.05 537.95,214.48 538.11,213.91 538.26,213.33 538.38,212.86 538.41,212.74 538.56,212.14 538.71,211.53 538.87,210.92 539.02,210.29 539.14,209.79 539.17,209.66 539.32,209.02 539.47,208.37 539.63,207.72 539.78,207.05 539.90,206.51 539.93,206.38 540.08,205.70 540.23,205.01 540.39,204.31 540.54,203.61 540.66,203.04 540.69,202.90 540.84,202.18 540.99,201.46 541.15,200.73 541.30,199.99 541.42,199.40 541.45,199.25 541.60,198.49 541.75,197.73 541.91,196.95 542.06,196.15 542.18,195.50 542.21,195.34 542.36,194.52 542.51,193.68 542.67,192.82 542.82,191.95 542.94,191.24 542.97,191.06 543.12,190.15 543.27,189.23 543.43,188.28 543.58,187.32 543.70,186.53 543.73,186.34 543.88,185.33 544.03,184.31 544.19,183.26 544.34,182.19 544.46,181.31 544.49,181.09 544.64,179.98 544.79,178.83 544.95,177.66 545.10,176.46 545.22,175.49 545.25,175.24 545.40,173.98 545.55,172.70 545.71,171.38 545.86,170.03 545.98,168.93 546.01,168.65 546.16,167.23 546.31,165.77 546.47,164.28 546.62,162.75 546.74,161.49 546.77,161.17 546.92,159.56 547.07,157.90 547.23,156.19 547.38,154.44 547.50,153.00 547.53,152.64 547.68,150.78 547.83,148.88 547.99,146.92 548.14,144.90 548.26,143.24 548.29,142.82 548.44,140.68 548.59,138.48 548.75,136.21 548.90,133.88 549.02,131.96 549.05,131.47 549.20,128.99 549.35,126.45 549.51,123.84 549.66,121.17 549.78,118.99 549.81,118.43 549.96,115.63 550.11,112.75 550.27,109.80 550.42,106.77 550.54,104.30 550.57,103.68 550.72,100.50 550.87,97.26 551.03,93.93 551.18,90.54 551.30,87.77 551.33,87.07 551.48,83.54 551.63,79.94 551.79,76.28 551.94,72.57 552.06,69.57 552.09,68.81 552.24,65.03 552.39,61.22 552.55,57.40 552.70,53.60 552.82,50.58 552.85,49.82 553.00,46.10 553.15,42.45 553.31,38.90 553.46,35.47 553.58,32.84 553.61,32.20 553.76,29.12 553.91,26.26 554.07,23.64 554.22,21.30 554.34,19.65 554.37,19.26 554.52,17.55 554.67,16.19 554.83,15.18 554.98,14.55 555.10,14.32 555.13,14.30 555.28,14.44 555.43,14.97 555.59,15.87 555.74,17.13 555.86,18.38 555.89,18.72 556.04,20.62 556.19,22.80 556.35,25.23 556.50,27.89 556.62,30.15 556.65,30.73 556.80,33.73 556.95,36.86 557.11,40.09 557.26,43.41 557.38,46.10 557.41,46.77 557.56,50.18 557.71,53.60 557.87,57.01 558.02,60.42 558.14,63.12 558.17,63.79 558.32,67.14 558.47,70.43 558.63,73.67 558.78,76.86 558.90,79.37 558.93,79.99 559.08,83.05 559.23,86.04 559.39,88.96 559.54,91.81 559.66,94.05 559.69,94.60 559.84,97.31 559.99,99.95 560.15,102.52 560.30,105.03 560.42,106.98 560.45,107.47 560.60,109.84 560.75,112.15 560.91,114.39 561.06,116.58 561.18,118.29 561.21,118.71 561.36,120.78 561.51,122.80 561.67,124.76 561.82,126.67 561.94,128.16 561.97,128.53 562.12,130.35 562.27,132.15 562.43,133.96 562.58,135.76 562.70,137.20 562.73,137.56 562.88,139.33 563.03,141.09 563.19,142.83 563.34,144.53 563.46,145.88 563.49,146.21 563.64,147.85 563.79,149.45 563.95,151.00 564.10,152.52 564.22,153.69 564.25,153.98 564.40,155.40 564.55,156.76 564.71,158.07 564.86,159.33 564.98,160.29 565.01,160.52 565.16,161.66 565.31,162.74 565.47,163.75 565.62,164.70 565.74,165.42 565.77,165.59 565.92,166.44 566.07,167.26 566.23,168.06 566.38,168.84 566.50,169.44 566.53,169.59 566.68,170.33 566.83,171.04 566.99,171.74 567.14,172.42 567.26,172.95 567.29,173.08 567.44,173.73 567.59,174.36 567.75,174.97 567.90,175.57 568.02,176.04 568.05,176.15 568.20,176.72 568.35,177.28 568.51,177.83 568.66,178.36 568.78,178.78 568.81,178.89 568.96,179.40 569.11,179.90 569.27,180.39 569.42,180.88 569.54,181.26 569.57,181.35 569.72,181.82 569.87,182.27 570.03,182.73 570.18,183.17 570.30,183.52 570.33,183.60 570.48,184.03 570.63,184.46 570.79,184.88 570.94,185.29 571.06,185.61 571.09,185.70 571.24,186.10 571.39,186.50 571.55,186.89 571.70,187.28 571.82,187.59 571.85,187.66 572.00,188.05 572.15,188.42 572.31,188.79 572.46,189.16 572.58,189.45 572.61,189.52 572.76,189.87 572.91,190.22 573.07,190.57 573.22,190.91 573.34,191.18 574.10,192.79 574.86,194.30 575.62,195.70 576.38,197.02 577.14,198.25 577.90,199.40 578.66,200.47 579.42,201.48 580.18,202.44 580.94,203.34 581.70,204.19 582.46,204.99 583.22,205.76 583.98,206.48 584.74,207.17 585.50,207.83 586.26,208.46 587.02,209.06 587.78,209.63 588.54,210.18 589.30,210.70 590.06,211.21 590.82,211.69 591.58,212.15 592.34,212.60 593.10,213.03 593.86,213.44 594.62,213.84 595.38,214.22 596.14,214.59 596.90,214.94 597.66,215.29 598.42,215.62 599.18,215.94 599.94,216.25 600.70,216.55 601.46,216.84 602.22,217.12 602.98,217.39 603.74,217.65 604.50,217.90 605.26,218.15 606.02,218.39 606.78,218.62 607.54,218.84 608.30,219.06 609.06,219.27 609.82,219.48 610.58,219.68 611.34,219.87 612.10,220.05 612.86,220.23 613.62,220.41 614.38,220.58 615.14,220.74 615.90,220.90 616.66,221.06 617.42,221.21 618.18,221.35 618.94,221.50 619.70,221.64 620.46,221.77 621.22,221.90 621.98,222.03 622.74,222.16 623.50,222.28 624.26,222.40 625.02,222.52 625.78,222.63 626.54,222.74 627.30,222.85 628.06,222.96 628.82,223.07 629.58,223.17 630.34,223.27 631.10,223.37 631.86,223.47 632.62,223.57 633.38,223.66 634.14,223.75 634.90,223.85 635.66,223.94 636.42,224.03 637.18,224.12 637.94,224.21 638.70,224.29 639.46,224.38 640.22,224.46 640.98,224.55 641.74,224.63 642.50,224.71 643.26,224.79 644.02,224.86 644.78,224.94 645.54,225.01 646.30,225.09 647.06,225.16 647.82,225.23 648.58,225.30 649.34,225.37 650.10,225.44 650.86,225.51 651.62,225.57 652.38,225.64 653.14,225.70 653.90,225.77 654.66,225.83 655.42,225.89 656.18,225.95 656.94,226.02 657.70,226.08 658.46,226.14 659.22,226.19 659.98,226.25 660.74,226.31 661.50,226.37 662.26,226.42 663.02,226.48 663.78,226.54 664.54,226.59 665.30,226.65 666.06,226.70 666.82,226.76 667.58,226.81 668.34,226.87 669.10,226.92 669.86,226.97 670.62,227.03 671.38,227.08 672.14,227.13 672.90,227.18 673.66,227.23 674.42,227.28 675.18,227.33 675.94,227.38 676.70,227.43 677.46,227.48 678.22,227.53 678.98,227.57 679.74,227.62 680.50,227.67 681.26,227.71 682.02,227.76 682.78,227.81 683.54,227.85 684.30,227.90 685.06,227.94 685.82,227.99 686.58,228.03 687.34,228.08 688.10,228.12 688.86,228.16 689.62,228.21 690.38,228.25 691.14,228.29 691.90,228.33 692.66,228.38 693.42,228.42 694.18,228.46 694.94,228.50 695.70,228.54 696.46,228.59 697.22,228.63 697.98,228.67 698.74,228.71 699.50,228.75" fill="none" stroke="#0072BD" stroke-width="1.5" stroke-linejoin="round"/>
<polyline clip-path="url(#clip-b)" points="395.50,235.91 396.26,235.82 397.02,235.73 397.78,235.64 398.54,235.55 399.30,235.46 400.06,235.36 400.82,235.27 401.58,235.17 402.34,235.07 403.10,234.97 403.86,234.87 404.62,234.77 405.38,234.67 406.14,234.56 406.90,234.46 407.66,234.35 408.42,234.24 409.18,234.13 409.94,234.02 410.70,233.91 411.46,233.79 412.22,233.68 412.98,233.56 413.74,233.44 414.50,233.32 415.26,233.19 416.02,233.07 416.78,232.94 417.54,232.82 418.30,232.69 419.06,232.55 419.82,232.42 420.58,232.29 421.34,232.15 422.10,232.01 422.86,231.87 423.62,231.72 424.38,231.58 425.14,231.43 425.90,231.28 426.66,231.13 427.42,230.97 428.18,230.81 428.94,230.65 429.70,230.48 430.46,230.31 431.22,230.14 431.98,229.96 432.74,229.78 433.50,229.59 434.26,229.40 435.02,229.21 435.78,229.01 436.54,228.81 437.30,228.60 438.06,228.39 438.82,228.17 439.58,227.96 440.34,227.73 441.10,227.50 441.86,227.27 442.62,227.03 443.38,226.79 444.14,226.54 444.90,226.29 445.66,226.03 446.42,225.77 447.18,225.50 447.94,225.23 448.70,224.95 449.46,224.66 450.22,224.37 450.98,224.07 451.74,223.77 452.50,223.46 453.26,223.15 454.02,222.82 454.78,222.49 455.54,222.15 456.30,221.81 457.06,221.46 457.82,221.09 458.58,220.72 459.34,220.33 460.10,219.93 460.86,219.51 461.62,219.08 462.38,218.64 463.14,218.17 463.90,217.69 464.66,217.19 465.42,216.67 466.18,216.12 466.94,215.56 467.70,214.96 468.46,214.34 469.22,213.69 469.98,213.00 470.74,212.28 471.50,211.52 472.26,210.72 473.02,209.87 473.78,208.99 474.54,208.05 475.30,207.06 476.06,206.01 476.82,204.90 477.58,203.72 478.34,202.47 479.10,201.13 479.86,199.71 480.62,198.19 481.38,196.62 481.84,195.67 481.99,195.35 482.14,195.03 482.29,194.70 482.44,194.38 482.60,194.05 482.75,193.71 482.90,193.37 483.05,193.03 483.20,192.69 483.36,192.33 483.51,191.98 483.66,191.61 483.81,191.24 483.96,190.87 484.12,190.48 484.27,190.09 484.42,189.69 484.57,189.28 484.72,188.86 484.88,188.44 485.03,188.00 485.18,187.55 485.33,187.09 485.48,186.61 485.64,186.12 485.79,185.62 485.94,185.11 486.09,184.58 486.24,184.03 486.40,183.47 486.55,182.89 486.70,182.29 486.85,181.67 487.00,181.03 487.16,180.37 487.31,179.69 487.46,178.99 487.61,178.27 487.76,177.52 487.92,176.76 488.07,175.97 488.22,175.16 488.37,174.32 488.52,173.47 488.68,172.59 488.83,171.68 488.98,170.75 489.13,169.79 489.28,168.81 489.44,167.80 489.59,166.77 489.74,165.71 489.89,164.62 490.04,163.50 490.20,162.35 490.35,161.17 490.50,159.96 490.65,158.72 490.80,157.44 490.96,156.14 491.11,154.80 491.26,153.42 491.41,152.01 491.56,150.57 491.72,149.08 491.87,147.56 492.02,146.00 492.17,144.40 492.32,142.75 492.48,141.07 492.63,139.34 492.78,137.56 492.93,135.74 493.08,133.87 493.24,131.96 493.39,129.99 493.54,127.97 493.69,125.90 493.84,123.78 494.00,121.60 494.15,119.36 494.30,117.06 494.45,114.70 494.60,112.26 494.76,109.75 494.91,107.17 495.06,104.51 495.21,101.77 495.36,98.94 495.52,96.03 495.67,93.03 495.82,89.94 495.97,86.75 496.12,83.47 496.28,80.09 496.43,76.62 496.58,73.05 496.73,69.39 496.88,65.64 497.04,61.81 497.19,57.91 497.34,53.94 497.49,49.91 497.64,45.86 497.80,41.79 497.95,37.72 498.10,33.69 498.25,29.73 498.40,25.86 498.56,22.14 498.71,18.61 498.86,15.30 499.01,12.27 499.16,9.57 499.32,7.24 499.47,5.33 499.62,3.87 499.77,2.90 499.92,2.44 500.08,2.50" fill="none" stroke="#D95319" stroke-width="1.5" stroke-dasharray="5.4 5.7" stroke-dashoffset="0.00" stroke-linejoin="round"/>
<polyline clip-path="url(#clip-b)" points="500.08,2.50 500.23,3.10 500.38,4.24 500.53,5.91 500.68,8.08 500.84,10.71 500.99,13.75 501.14,17.16 501.29,20.88 501.44,24.87 501.60,29.08 501.75,33.44 501.90,37.93 502.05,42.49 502.20,47.09 502.36,51.70 502.51,56.29 502.66,60.84 502.81,65.33 502.96,69.74 503.12,74.05 503.27,78.27 503.42,82.38 503.57,86.37 503.72,90.25 503.88,94.02 504.03,97.66 504.18,101.19 504.33,104.60 504.48,107.89 504.64,111.07 504.79,114.15 504.94,117.12 505.09,119.98 505.24,122.75 505.40,125.42 505.55,127.99 505.70,130.48 505.85,132.82 506.00,135.01 506.16,137.06 506.31,138.99 506.46,140.80 506.61,142.51 506.76,144.13 506.92,145.67 507.07,147.13 507.22,148.54 507.37,149.89 507.52,151.20 507.68,152.47 507.83,153.71 507.98,154.93 508.13,156.14 508.28,157.33 508.44,158.52 508.59,159.71 508.74,160.91 508.89,162.13 509.04,163.36 509.20,164.61 509.35,165.88 509.50,167.18 509.65,168.51 509.80,169.86 509.96,171.23 510.11,172.59 510.26,173.97 510.41,175.33 510.56,176.69 510.72,178.04 510.87,179.37 511.02,180.67 511.17,181.95 511.32,183.21 511.48,184.43 511.63,185.62 511.78,186.77 511.93,187.88 512.08,188.95 512.24,189.98 512.39,190.97 512.54,191.91 512.69,192.80 512.84,193.64 513.00,194.44 513.15,195.18 513.30,195.87 513.45,196.52 513.60,197.13 513.76,197.72 513.91,198.30 514.06,198.85 514.21,199.39 514.36,199.91 514.52,200.42 514.67,200.91 514.82,201.39 514.97,201.85 515.12,202.30 515.28,202.74 515.43,203.17 515.58,203.59 515.73,204.00 515.88,204.40 516.04,204.79 516.19,205.17 516.34,205.55 516.49,205.92 516.64,206.28 516.80,206.64 516.95,206.99 517.10,207.34 517.25,207.69 517.40,208.03 517.56,208.37 517.71,208.70 517.86,209.03 518.01,209.36 518.16,209.69 518.32,210.02 518.62,210.67 519.38,212.29 520.14,213.94 520.90,215.59 521.66,217.15 522.42,218.63 523.18,220.04 523.94,221.38 524.70,222.66 525.46,223.89 526.22,225.05 526.98,226.12 527.74,227.14 528.50,228.11 529.26,229.05 530.02,229.99 530.78,230.91 531.54,231.84 531.63,231.96 531.94,232.33 532.24,232.70 532.30,232.78 532.54,233.07 532.85,233.43 533.06,233.68 533.15,233.79 533.46,234.12 533.76,234.45 533.82,234.51 534.06,234.76 534.37,235.04 534.58,235.23 534.67,235.31 534.98,235.55 535.28,235.77 535.34,235.81 535.58,235.96 535.89,236.11 536.10,236.20 536.19,236.23 536.50,236.32 536.80,236.37 536.86,236.37 537.10,236.38 537.41,236.35 537.62,236.30 537.71,236.27 538.02,236.15 538.08,236.12 538.23,236.03 538.32,235.97 538.38,235.93 538.53,235.82 538.62,235.75 538.68,235.69 538.84,235.56 538.93,235.47 538.99,235.41 539.14,235.24 539.23,235.14 539.29,235.07 539.44,234.88 539.54,234.76 539.60,234.68 539.75,234.46 539.84,234.33 539.90,234.24 540.05,234.00 540.14,233.85 540.20,233.75 540.36,233.48 540.45,233.32 540.51,233.21 540.66,232.92 540.75,232.74 540.81,232.62 540.96,232.30 541.06,232.11 541.12,231.98 541.27,231.64 541.36,231.44 541.42,231.30 541.57,230.94 541.66,230.72 541.72,230.57 541.88,230.18 541.97,229.95 542.03,229.79 542.18,229.39 542.27,229.14 542.33,228.98 542.48,228.55 542.58,228.30 542.64,228.12 542.79,227.68 542.88,227.41 542.94,227.23 543.09,226.76 543.18,226.47 543.24,226.27 543.40,225.76 543.49,225.45 543.55,225.24 543.70,224.70 543.79,224.36 543.85,224.14 544.00,223.56 544.16,222.97 544.31,222.36 544.46,221.73 544.61,221.10 544.76,220.45 544.92,219.78 545.07,219.11 545.22,218.43 545.37,217.74 545.52,217.04 545.68,216.34 545.83,215.64 545.98,214.94 546.13,214.24 546.28,213.54 546.44,212.84 546.59,212.15 546.74,211.45 546.89,210.75 547.04,210.05 547.20,209.34 547.35,208.63 547.50,207.91 547.65,207.18 547.80,206.44 547.96,205.68 548.11,204.92 548.26,204.13 548.41,203.33 548.56,202.51 548.72,201.66 548.87,200.78 549.02,199.88 549.17,198.94 549.32,197.97 549.48,196.95 549.63,195.90 549.78,194.84 549.93,193.75 550.08,192.63 550.24,191.49 550.39,190.31 550.54,189.11 550.69,187.86 550.84,186.57 551.00,185.23 551.15,183.85 551.30,182.40 551.45,180.90 551.60,179.33 551.76,177.68 551.91,175.96 552.06,174.16 552.21,172.24 552.36,169.74 552.52,166.49 552.67,162.61 552.82,158.25 552.97,153.57 553.12,148.79 553.28,144.17 553.43,140.04 553.58,136.74 553.73,134.14 553.88,131.88 554.04,129.94 554.19,128.31 554.34,126.96 554.49,125.87 554.64,125.01 554.80,124.36 554.95,123.88 555.10,123.55 555.25,123.32 555.40,123.18 555.56,123.07 555.71,122.96 555.86,122.82 556.01,122.61 556.16,122.28 556.32,121.80" fill="none" stroke="#D95319" stroke-width="1.5" stroke-dasharray="5.4 5.7" stroke-dashoffset="0.32" stroke-linejoin="round"/>
<polyline clip-path="url(#clip-b)" points="556.32,121.80 556.47,121.32 556.62,121.05 556.77,121.00 556.92,121.16 557.08,121.52 557.23,122.06 557.38,122.79 557.53,123.67 557.68,124.70 557.84,125.86 557.99,127.14 558.14,128.51 558.29,129.97 558.44,131.49 558.60,133.07 558.75,134.69 558.90,136.33 559.05,138.00 559.20,139.68 559.36,141.36 559.51,143.03 559.66,144.69 559.81,146.33 559.96,147.95 560.12,149.53 560.27,151.09 560.42,152.61 560.57,154.09 560.72,155.54 560.88,156.95 561.03,158.32 561.18,159.66 561.33,160.96 561.48,162.23 561.64,163.46 561.79,164.65 561.94,165.81 562.09,166.94 562.24,168.03 562.40,169.10 562.55,170.13 562.70,171.13 562.85,172.10 563.00,173.05 563.16,173.97 563.31,174.86 563.46,175.73 563.61,176.58 563.76,177.40 563.92,178.20 564.07,178.98 564.22,179.74 564.37,180.48 564.52,181.20 564.68,181.90 564.83,182.59 564.98,183.26 565.13,183.91 565.28,184.55 565.44,185.18 565.59,185.79 565.74,186.38 565.74,186.38 565.89,186.97 566.04,187.54 566.20,188.09 566.35,188.63 566.50,189.16 566.65,189.68 566.80,190.18 566.96,190.67 567.11,191.15 567.26,191.62 567.41,192.08 567.56,192.53 567.72,192.97 567.87,193.40 568.02,193.82 568.17,194.23 568.32,194.63 568.48,195.03 568.63,195.41 568.78,195.79 568.93,196.16 569.08,196.53 569.24,196.88 569.39,197.23 569.54,197.57 569.69,197.91 569.84,198.24 570.00,198.56 570.15,198.88 570.30,199.20 570.45,199.50 570.60,199.81 570.76,200.10 570.91,200.39 571.06,200.68 571.21,200.96 571.36,201.24 571.52,201.51 571.67,201.78 571.82,202.05 571.97,202.31 572.12,202.56 572.28,202.81 572.43,203.06 572.58,203.30 572.73,203.54 572.88,203.77 573.04,204.00 573.19,204.22 573.34,204.44 573.49,204.66 573.64,204.87 573.80,205.09 573.95,205.29 574.10,205.50 574.25,205.70 574.40,205.90 574.56,206.10 574.86,206.48 575.62,207.41 576.38,208.30 577.14,209.16 577.90,210.00 578.66,210.81 579.42,211.58 580.18,212.31 580.94,213.00 581.70,213.66 582.46,214.28 583.22,214.88 583.98,215.44 584.74,215.98 585.50,216.50 586.26,216.99 587.02,217.46 587.78,217.92 588.54,218.35 589.30,218.76 590.06,219.16 590.82,219.54 591.58,219.90 592.34,220.25 593.10,220.58 593.86,220.89 594.62,221.19 595.38,221.48 596.14,221.76 596.90,222.03 597.66,222.29 598.42,222.53 599.18,222.77 599.94,223.00 600.70,223.22 601.46,223.43 602.22,223.64 602.98,223.84 603.74,224.03 604.50,224.22 605.26,224.40 606.02,224.58 606.78,224.75 607.54,224.92 608.30,225.09 609.06,225.25 609.82,225.40 610.58,225.55 611.34,225.69 612.10,225.82 612.86,225.95 613.62,226.08 614.38,226.20 615.14,226.32 615.90,226.43 616.66,226.54 617.42,226.64 618.18,226.74 618.94,226.84 619.70,226.94 620.46,227.03 621.22,227.12 621.98,227.20 622.74,227.29 623.50,227.37 624.26,227.45 625.02,227.53 625.78,227.60 626.54,227.68 627.30,227.75 628.06,227.82 628.82,227.89 629.58,227.96 630.34,228.03 631.10,228.10 631.86,228.16 632.62,228.23 633.38,228.29 634.14,228.36 634.90,228.43 635.66,228.49 636.42,228.56 637.18,228.62 637.94,228.69 638.70,228.75 639.46,228.82 640.22,228.88 640.98,228.94 641.74,229.01 642.50,229.07 643.26,229.13 644.02,229.19 644.78,229.25 645.54,229.31 646.30,229.37 647.06,229.43 647.82,229.49 648.58,229.54 649.34,229.60 650.10,229.66 650.86,229.71 651.62,229.76 652.38,229.82 653.14,229.87 653.90,229.92 654.66,229.98 655.42,230.03 656.18,230.08 656.94,230.13 657.70,230.18 658.46,230.23 659.22,230.27 659.98,230.32 660.74,230.37 661.50,230.41 662.26,230.46 663.02,230.51 663.78,230.55 664.54,230.59 665.30,230.64 666.06,230.68 666.82,230.72 667.58,230.77 668.34,230.81 669.10,230.85 669.86,230.89 670.62,230.93 671.38,230.97 672.14,231.01 672.90,231.04 673.66,231.08 674.42,231.12 675.18,231.16 675.94,231.19 676.70,231.23 677.46,231.27 678.22,231.30 678.98,231.34 679.74,231.37 680.50,231.41 681.26,231.44 682.02,231.47 682.78,231.51 683.54,231.54 684.30,231.57 685.06,231.61 685.82,231.64 686.58,231.67 687.34,231.70 688.10,231.73 688.86,231.77 689.62,231.80 690.38,231.83 691.14,231.86 691.90,231.89 692.66,231.92 693.42,231.95 694.18,231.98 694.94,232.00 695.70,232.03 696.46,232.06 697.22,232.09 697.98,232.12 698.74,232.15 699.50,232.17" fill="none" stroke="#D95319" stroke-width="1.5" stroke-dasharray="5.4 5.7" stroke-dashoffset="0.00" stroke-linejoin="round"/>
<rect x="582.15" y="75.45" width="51.99999999999996" height="46.400000000000006" fill="none" stroke="#808000" stroke-width="5.3"/>
<rect x="643.35" y="75.45" width="51.399999999999935" height="46.400000000000006" fill="none" stroke="#808000" stroke-width="5.3"/>
<rect x="605.7" y="71.8" width="3.3999999999999773" height="7.3" fill="#fff"/>
<rect x="666.4" y="71.8" width="3.5" height="7.3" fill="#fff"/>
<rect x="575" y="95.9" width="127" height="3.6" fill="#fff"/>
<rect x="395.5" y="2.5" width="304.0" height="241.0" fill="none" stroke="#808080" stroke-width="1.0"/>
<path d="M456.30 243.5v-3M456.30 2.5v3M517.10 243.5v-3M517.10 2.5v3M577.90 243.5v-3M577.90 2.5v3M638.70 243.5v-3M638.70 2.5v3M395.5 183.25h3M699.5 183.25h-3M395.5 123.00h3M699.5 123.00h-3M395.5 62.75h3M699.5 62.75h-3" stroke="#808080" stroke-width="1.0" fill="none"/>
<text class="tk" transform="rotate(0.05 395.00 256.4)" x="395.00" y="256.4" text-anchor="middle">100</text>
<text class="tk" transform="rotate(0.05 455.80 256.4)" x="455.80" y="256.4" text-anchor="middle">110</text>
<text class="tk" transform="rotate(0.05 516.60 256.4)" x="516.60" y="256.4" text-anchor="middle">120</text>
<text class="tk" transform="rotate(0.05 577.40 256.4)" x="577.40" y="256.4" text-anchor="middle">130</text>
<text class="tk" transform="rotate(0.05 638.20 256.4)" x="638.20" y="256.4" text-anchor="middle">140</text>
<text class="tk" transform="rotate(0.05 699.00 256.4)" x="699.00" y="256.4" text-anchor="middle">150</text>
<text class="tk" transform="rotate(0.05 390.9 247.30)" x="390.9" y="247.30" text-anchor="end">0</text>
<text class="tk" transform="rotate(0.05 390.9 187.05)" x="390.9" y="187.05" text-anchor="end">0.25</text>
<text class="tk" transform="rotate(0.05 390.9 126.80)" x="390.9" y="126.80" text-anchor="end">0.5</text>
<text class="tk" transform="rotate(0.05 390.9 66.55)" x="390.9" y="66.55" text-anchor="end">0.75</text>
<text class="tk" transform="rotate(0.05 390.9 6.60)" x="390.9" y="6.60" text-anchor="end">1</text>
<text class="lb" transform="rotate(0.05 547.3 271.0)" x="547.3" y="271.0" text-anchor="middle">Frequency [MHz]</text>
<text class="cap" transform="rotate(0.05 545.5 291.5)" x="545.5" y="291.5" text-anchor="middle">(b)</text>
<text class="lb" letter-spacing="0.07" transform="translate(363.6,123.4) rotate(-89.95)" text-anchor="middle">Normalised |S<tspan dy="4.3" font-size="8.0">21</tspan><tspan dy="-4.3">|, |H</tspan><tspan dy="4.3" font-size="8.0">1</tspan><tspan dy="-4.3">|</tspan></text>
</g>
<g id="plot-c">
<clipPath id="clip-c"><rect x="39.5" y="305.5" width="304.0" height="241.0"/></clipPath>
<line x1="157.5" y1="305.5" x2="157.5" y2="546.5" stroke="#8c8c8c" stroke-width="1.0" stroke-dasharray="6.7 4.58" stroke-dashoffset="2.1"/>
<polyline clip-path="url(#clip-c)" points="39.50,542.88 40.26,542.83 41.02,542.78 41.78,542.73 42.54,542.68 43.30,542.62 44.06,542.57 44.82,542.51 45.58,542.46 46.34,542.40 47.10,542.34 47.86,542.28 48.62,542.22 49.38,542.16 50.14,542.10 50.90,542.03 51.66,541.97 52.42,541.90 53.18,541.83 53.94,541.76 54.70,541.69 55.46,541.62 56.22,541.54 56.98,541.47 57.74,541.39 58.50,541.31 59.26,541.23 60.02,541.15 60.78,541.07 61.54,540.98 62.30,540.90 63.06,540.81 63.82,540.71 64.58,540.62 65.34,540.52 66.10,540.43 66.86,540.33 67.62,540.22 68.38,540.12 69.14,540.01 69.90,539.90 70.66,539.78 71.42,539.66 72.18,539.54 72.94,539.42 73.70,539.29 74.46,539.16 75.22,539.02 75.98,538.88 76.74,538.74 77.50,538.59 78.26,538.44 79.02,538.28 79.78,538.12 80.54,537.95 81.30,537.77 82.06,537.59 82.82,537.41 83.58,537.22 84.34,537.02 85.10,536.81 85.86,536.59 86.62,536.37 87.38,536.14 88.14,535.90 88.90,535.64 89.66,535.38 90.42,535.11 91.18,534.82 91.94,534.52 92.70,534.21 93.46,533.88 94.22,533.53 94.98,533.16 95.74,532.78 96.50,532.36 97.26,531.93 98.02,531.46 98.78,530.97 99.54,530.44 100.30,529.87 101.06,529.26 101.82,528.59 102.18,528.25 102.34,528.11 102.49,527.96 102.58,527.87 102.64,527.81 102.79,527.66 102.94,527.50 103.10,527.35 103.25,527.19 103.34,527.09 103.40,527.02 103.55,526.86 103.70,526.69 103.86,526.52 104.01,526.35 104.10,526.25 104.16,526.17 104.31,526.00 104.46,525.82 104.62,525.63 104.77,525.44 104.86,525.33 104.92,525.25 105.07,525.06 105.22,524.87 105.38,524.67 105.53,524.46 105.62,524.34 105.68,524.26 105.83,524.05 105.98,523.84 106.14,523.62 106.29,523.40 106.38,523.27 106.44,523.18 106.59,522.95 106.74,522.72 106.90,522.48 107.05,522.24 107.14,522.09 107.20,521.99 107.35,521.74 107.50,521.48 107.66,521.21 107.81,520.94 107.90,520.78 107.96,520.67 108.11,520.38 108.26,520.09 108.42,519.80 108.57,519.49 108.66,519.31 108.72,519.18 108.87,518.86 109.02,518.54 109.18,518.20 109.33,517.86 109.42,517.65 109.48,517.51 109.63,517.15 109.78,516.78 109.94,516.40 110.09,516.00 110.18,515.77 110.24,515.60 110.39,515.19 110.54,514.77 110.70,514.33 110.85,513.88 110.94,513.61 111.00,513.42 111.15,512.94 111.30,512.45 111.46,511.95 111.61,511.43 111.70,511.11 111.76,510.89 111.91,510.33 112.06,509.76 112.22,509.17 112.37,508.56 112.46,508.18 112.52,507.93 112.67,507.28 112.82,506.62 112.98,505.95 113.13,505.26 113.22,504.84 113.28,504.55 113.43,503.82 113.58,503.06 113.74,502.28 113.89,501.47 113.98,500.97 114.04,500.63 114.19,499.75 114.34,498.83 114.50,497.87 114.65,496.86 114.74,496.23 114.80,495.80 114.95,494.68 115.10,493.50 115.26,492.25 115.41,490.94 115.50,490.11 115.56,489.53 115.71,487.93 115.86,486.12 116.02,484.10 116.17,481.87 116.26,480.42 116.32,479.41 116.47,476.75 116.62,473.86 116.78,470.75 116.93,467.44 117.02,465.34 117.08,463.91 117.23,460.18 117.38,456.26 117.54,452.17 117.69,447.92 117.78,445.31 117.84,443.55 117.99,439.09 118.14,434.59 118.30,430.10 118.45,425.56 118.54,422.77 118.60,420.89 118.75,416.11 118.90,411.26 119.06,406.40 119.21,401.58 119.30,398.76 119.36,396.91 119.51,392.47 119.66,388.40 119.82,384.82 119.97,381.86 120.06,380.44 120.12,379.65 120.27,378.27 120.42,377.80 120.58,378.20 120.73,379.42 120.82,380.53 120.88,381.42 121.03,384.13 121.18,387.44 121.34,391.24 121.49,395.42 121.58,398.07 121.64,399.87 121.79,404.51 121.94,409.25 122.10,414.03 122.25,418.81 122.34,421.67 122.40,423.56 122.55,428.24 122.70,432.84 122.86,437.31 123.01,441.61 123.10,444.10 123.16,445.73 123.31,449.68 123.46,453.44 123.62,457.02 123.77,460.42 123.86,462.37 123.92,463.63 124.07,466.68 124.22,469.55 124.38,472.27 124.53,474.87 124.62,476.38 124.68,477.36 124.83,479.74 124.98,482.02 125.14,484.20 125.29,486.28 125.38,487.48 125.44,488.26 125.59,490.16 125.74,491.97 125.90,493.70 126.05,495.35 126.14,496.30 126.20,496.92 126.35,498.42 126.50,499.85 126.66,501.21 126.81,502.51 126.90,503.26 126.96,503.75 127.11,504.92 127.26,506.04 127.42,507.10 127.57,508.13 127.66,508.74 127.72,509.13 127.87,510.09 128.02,511.02 128.18,511.92 128.33,512.79 128.42,513.29 128.48,513.62 128.63,514.43 128.78,515.20 128.94,515.95 129.09,516.67 129.18,517.09 129.24,517.36 129.39,518.02 129.54,518.66 129.70,519.27 129.85,519.86 129.94,520.20 130.00,520.43 130.15,520.96 130.30,521.48 130.46,521.97 130.61,522.44 130.70,522.71 130.76,522.89 130.91,523.32 131.06,523.72 131.22,524.11 131.37,524.47 131.46,524.68 131.52,524.82 131.67,525.17 131.82,525.50 131.98,525.82 132.13,526.13 132.22,526.32 132.28,526.44 132.43,526.74 132.58,527.03 132.74,527.31 132.89,527.58 132.98,527.75 133.04,527.85 133.19,528.12 133.34,528.37 133.50,528.63 133.65,528.87 133.74,529.02 133.80,529.12 133.95,529.35 134.10,529.59 134.26,529.81 134.41,530.04 134.50,530.17 134.56,530.26 134.71,530.48 134.86,530.69 135.02,530.90 135.17,531.11 135.26,531.24 135.32,531.32 135.47,531.52 135.62,531.72 135.78,531.91 135.93,532.11 136.02,532.22 136.08,532.30 136.23,532.48 136.38,532.67 136.54,532.85 136.69,533.02 136.78,533.13 136.84,533.20 136.99,533.37 137.14,533.54 137.30,533.70 137.45,533.87 137.54,533.97 137.60,534.03 137.75,534.19 137.90,534.34 138.06,534.50 138.21,534.65 138.30,534.74 138.36,534.80 138.51,534.95 138.66,535.09 139.06,535.46 139.82,536.13 140.58,536.76 141.34,537.34 142.10,537.89 142.86,538.42 143.62,538.91 144.38,539.38 145.14,539.83 145.90,540.25 146.66,540.65 147.42,541.03 148.18,541.39 148.94,541.74 149.70,542.06 150.46,542.37 151.22,542.66 151.98,542.93 152.74,543.20 153.50,543.45 154.26,543.70 155.02,543.94 155.63,544.13 155.78,544.18 155.93,544.23 156.24,544.32 156.54,544.42 156.84,544.51 157.15,544.60 157.30,544.64 157.45,544.69 157.76,544.78 158.06,544.87 158.36,544.95 158.67,545.04 158.82,545.08 158.97,545.12 159.28,545.20 159.58,545.27 159.88,545.34 160.19,545.40 160.34,545.42 160.49,545.45 160.80,545.49 161.10,545.52 161.40,545.54 161.71,545.54 161.86,545.53 162.01,545.52 162.32,545.49 162.62,545.44 162.92,545.38 163.23,545.30 163.38,545.26 163.53,545.22 163.84,545.12 164.14,545.01 164.44,544.90 164.75,544.78 164.90,544.71 165.05,544.65 165.36,544.51 165.66,544.36 165.96,544.21 166.27,544.06 166.42,543.98 166.57,543.89 166.88,543.73 167.18,543.55 167.48,543.37 167.79,543.19 167.94,543.09 168.70,542.60 169.46,542.08 170.22,541.54 170.98,540.98 171.74,540.41 172.50,539.84 173.26,539.27 174.02,538.70 174.78,538.11 175.54,537.50 176.30,536.86 177.06,536.20 177.82,535.50 178.58,534.76 179.34,533.99 180.10,533.17 180.86,532.30 181.62,531.37 182.38,530.37 183.14,529.30 183.29,529.08 183.44,528.85 183.60,528.62 183.75,528.39 183.90,528.15 184.05,527.91 184.20,527.66 184.36,527.41 184.51,527.16 184.66,526.90 184.81,526.63 184.96,526.37 185.12,526.09 185.27,525.82 185.42,525.53 185.57,525.24 185.72,524.95 185.88,524.64 186.03,524.32 186.18,524.00 186.33,523.67 186.48,523.32 186.64,522.97 186.79,522.61 186.94,522.23 187.09,521.85 187.24,521.46 187.40,521.05 187.55,520.64 187.70,520.21 187.85,519.77 188.00,519.32 188.16,518.86 188.31,518.38 188.46,517.89 188.61,517.39 188.76,516.87 188.92,516.34 189.07,515.80 189.22,515.24 189.37,514.67 189.52,514.08 189.68,513.48 189.83,512.86 189.98,512.22 190.13,511.56 190.28,510.89 190.44,510.20 190.59,509.49 190.74,508.76 190.89,508.01 191.04,507.24 191.20,506.45 191.35,505.64 191.50,504.81 191.65,503.94 191.80,503.02 191.96,502.05 192.11,501.04 192.26,499.98 192.41,498.88 192.56,497.73 192.72,496.54 192.87,495.32 193.02,494.05 193.17,492.75 193.32,491.42 193.48,490.05 193.63,488.66 193.78,487.25 193.93,485.81 194.08,484.37 194.24,482.91 194.39,481.45 194.54,479.98 194.69,478.52 194.84,477.03 195.00,475.53 195.15,474.00 195.30,472.44 195.45,470.85 195.60,469.22 195.76,467.53 195.91,465.80 196.06,464.01 196.21,462.14 196.36,460.20 196.52,458.18 196.67,456.06 196.82,453.84 196.97,451.50 197.12,449.04 197.28,446.43 197.43,443.68 197.58,440.75 197.73,437.65 197.88,434.35 198.04,430.83 198.19,427.05 198.34,422.93 198.49,418.46 198.64,413.65 198.80,408.48 198.95,402.97 199.10,397.11 199.25,390.92 199.40,384.43 199.56,377.66 199.71,370.67 199.86,363.49 200.01,356.22 200.16,348.95 200.32,341.77 200.47,334.83 200.62,328.26 200.77,322.23 200.92,316.89 201.08,312.41 201.23,308.94 201.38,306.60 201.53,305.50 201.68,305.51 201.84,306.45 201.99,308.28 202.14,310.94 202.29,314.32 202.44,318.33 202.60,322.85 202.75,327.77 202.90,333.00 203.05,338.42 203.20,343.96 203.36,349.55 203.51,355.12 203.66,360.63 203.81,366.03 203.96,371.31 204.12,376.44 204.27,381.40 204.42,386.19 204.57,390.80 204.72,395.23 204.88,399.48 205.03,403.56 205.18,407.46 205.33,411.20 205.48,414.77 205.64,418.20 205.79,421.47 205.94,424.61 206.09,427.61 206.24,430.48 206.40,433.23 206.55,435.88 206.70,438.45 206.85,440.93 207.00,443.34 207.16,445.66 207.31,447.91 207.46,450.08 207.61,452.18 207.76,454.20 207.92,456.15 208.07,458.03 208.22,459.84 208.37,461.59 208.52,463.27 208.68,464.88 208.83,466.43 208.98,467.91 209.13,469.34 209.28,470.70 209.44,472.01 209.59,473.25 209.74,474.44 209.89,475.58 210.04,476.69 210.20,477.75 210.35,478.79 210.50,479.79 210.65,480.76 210.80,481.70 210.96,482.61 211.11,483.50 211.26,484.36 211.41,485.20 211.56,486.01 211.72,486.80 211.87,487.56 212.02,488.31 212.17,489.04 212.32,489.74 212.48,490.43 212.63,491.10 212.78,491.76 212.93,492.40 213.08,493.02 213.24,493.63 213.39,494.22 213.54,494.80 213.69,495.37 213.84,495.92 214.00,496.46 214.15,496.99 214.30,497.51 214.45,498.02 214.60,498.51 214.76,499.00 214.91,499.48 215.06,499.95 215.21,500.41 215.36,500.86 215.52,501.30 215.67,501.73 215.82,502.16 215.97,502.57 216.12,502.99 216.28,503.39 216.43,503.79 216.58,504.19 216.73,504.57 216.88,504.96 217.04,505.33 217.19,505.70 217.34,506.06 217.49,506.42 217.64,506.77 217.80,507.12 217.95,507.46 218.10,507.80 218.25,508.12 218.40,508.45 218.56,508.77 218.71,509.08 218.86,509.39 219.01,509.69 219.16,509.99 219.32,510.28 219.47,510.56 219.62,510.84 219.77,511.12 220.38,512.17 221.14,513.37 221.90,514.45 222.66,515.43 223.42,516.34 224.18,517.19 224.94,517.99 225.70,518.73 226.46,519.44 227.22,520.10 227.98,520.72 228.74,521.31 229.50,521.86 230.26,522.39 231.02,522.89 231.78,523.37 232.54,523.82 233.30,524.25 234.06,524.67 234.82,525.05 235.58,525.41 236.34,525.74 237.10,526.05 237.86,526.34 238.62,526.60 239.38,526.85 240.14,527.08 240.90,527.30 241.66,527.50 242.42,527.70 243.18,527.88 243.94,528.05 244.70,528.21 245.46,528.37 246.22,528.52 246.98,528.67 247.74,528.81 248.50,528.95 249.26,529.08 250.02,529.22 250.78,529.36 251.54,529.49 252.30,529.63 253.06,529.77 253.82,529.90 254.58,530.03 255.34,530.16 256.10,530.28 256.86,530.41 257.62,530.52 258.38,530.64 259.14,530.75 259.90,530.87 260.66,530.97 261.42,531.08 262.18,531.18 262.94,531.29 263.70,531.39 264.46,531.48 265.22,531.58 265.98,531.67 266.74,531.76 267.50,531.85 268.26,531.94 269.02,532.02 269.78,532.11 270.54,532.19 271.30,532.27 272.06,532.34 272.82,532.42 273.58,532.49 274.34,532.57 275.10,532.64 275.86,532.70 276.62,532.77 277.38,532.84 278.14,532.90 278.90,532.96 279.66,533.02 280.42,533.08 281.18,533.14 281.94,533.19 282.70,533.25 283.46,533.30 284.22,533.35 284.98,533.40 285.74,533.44 286.50,533.49 287.26,533.53 288.02,533.58 288.78,533.62 289.54,533.66 290.30,533.70 291.06,533.74 291.82,533.78 292.58,533.82 293.34,533.85 294.10,533.89 294.86,533.92 295.62,533.96 296.38,533.99 297.14,534.02 297.90,534.05 298.66,534.08 299.42,534.11 300.18,534.14 300.94,534.17 301.70,534.20 302.46,534.23 303.22,534.26 303.98,534.28 304.74,534.31 305.50,534.34 306.26,534.36 307.02,534.39 307.78,534.42 308.54,534.44 309.30,534.47 310.06,534.49 310.82,534.52 311.58,534.54 312.34,534.57 313.10,534.59 313.86,534.62 314.62,534.64 315.38,534.67 316.14,534.69 316.90,534.72 317.66,534.74 318.42,534.76 319.18,534.79 319.94,534.81 320.70,534.83 321.46,534.85 322.22,534.88 322.98,534.90 323.74,534.92 324.50,534.94 325.26,534.96 326.02,534.98 326.78,535.00 327.54,535.02 328.30,535.04 329.06,535.06 329.82,535.08 330.58,535.10 331.34,535.12 332.10,535.14 332.86,535.16 333.62,535.18 334.38,535.20 335.14,535.22 335.90,535.24 336.66,535.25 337.42,535.27 338.18,535.29 338.94,535.31 339.70,535.33 340.46,535.34 341.22,535.36 341.98,535.38 342.74,535.40 343.50,535.41" fill="none" stroke="#0072BD" stroke-width="1.5" stroke-linejoin="round"/>
<polyline clip-path="url(#clip-c)" points="39.50,540.91 40.26,540.87 41.02,540.82 41.78,540.78 42.54,540.73 43.30,540.69 44.06,540.64 44.82,540.59 45.58,540.54 46.34,540.49 47.10,540.44 47.86,540.39 48.62,540.34 49.38,540.29 50.14,540.23 50.90,540.18 51.66,540.12 52.42,540.06 53.18,540.00 53.94,539.94 54.70,539.88 55.46,539.82 56.22,539.75 56.98,539.69 57.74,539.62 58.50,539.55 59.26,539.48 60.02,539.41 60.78,539.34 61.54,539.26 62.30,539.19 63.06,539.11 63.82,539.03 64.58,538.95 65.34,538.86 66.10,538.77 66.86,538.69 67.62,538.59 68.38,538.50 69.14,538.40 69.90,538.31 70.66,538.20 71.42,538.09 72.18,537.97 72.94,537.85 73.70,537.71 74.46,537.57 75.22,537.43 75.98,537.27 76.74,537.11 77.50,536.94 78.26,536.77 79.02,536.58 79.78,536.40 80.54,536.20 81.30,536.00 82.06,535.79 82.82,535.57 83.58,535.35 84.34,535.12 85.10,534.89 85.86,534.65 86.62,534.40 87.38,534.15 88.14,533.90 88.90,533.63 89.66,533.36 90.42,533.08 91.18,532.79 91.94,532.49 92.70,532.17 93.46,531.84 94.22,531.49 94.98,531.13 95.74,530.74 96.50,530.34 97.26,529.91 98.02,529.45 98.78,528.96 99.54,528.43 100.30,527.87 101.06,527.26 101.82,526.59 102.58,525.86 103.34,525.07 104.10,524.22 104.86,523.29 105.04,523.05 105.19,522.85 105.35,522.65 105.50,522.45 105.62,522.28 105.65,522.24 105.80,522.03 105.95,521.81 106.11,521.60 106.26,521.37 106.38,521.20 106.41,521.15 106.56,520.92 106.71,520.68 106.87,520.44 107.02,520.20 107.14,519.99 107.17,519.94 107.32,519.69 107.47,519.42 107.63,519.15 107.78,518.87 107.90,518.65 107.93,518.59 108.08,518.31 108.23,518.01 108.39,517.71 108.54,517.41 108.66,517.16 108.69,517.09 108.84,516.78 108.99,516.45 109.15,516.12 109.30,515.78 109.42,515.51 109.45,515.44 109.60,515.09 109.75,514.73 109.91,514.37 110.06,514.00 110.18,513.70 110.21,513.62 110.36,513.24 110.51,512.85 110.67,512.45 110.82,512.05 110.94,511.72 110.97,511.64 111.12,511.22 111.27,510.80 111.43,510.36 111.58,509.92 111.70,509.57 111.73,509.48 111.88,509.02 112.03,508.56 112.19,508.09 112.34,507.61 112.46,507.22 112.49,507.12 112.64,506.62 112.79,506.11 112.95,505.59 113.10,505.05 113.22,504.61 113.25,504.50 113.40,503.94 113.55,503.36 113.71,502.76 113.86,502.15 113.98,501.65 114.01,501.52 114.16,500.87 114.31,500.21 114.47,499.52 114.62,498.81 114.74,498.23 114.77,498.08 114.92,497.32 115.07,496.54 115.23,495.73 115.38,494.89 115.50,494.20 115.53,494.03 115.68,493.15 115.83,492.28 115.99,491.40 116.14,490.51 116.26,489.79 116.29,489.62 116.44,488.71 116.59,487.79 116.75,486.85 116.90,485.88 117.02,485.09 117.05,484.89 117.20,483.87 117.35,482.82 117.51,481.72 117.66,480.58 117.78,479.63 117.81,479.39 117.96,478.13 118.11,476.81 118.27,475.42 118.42,473.95 118.54,472.70 118.57,472.38 118.72,470.72 118.87,468.94 119.03,467.04 119.18,465.01 119.30,463.27 119.33,462.82 119.48,460.46 119.63,457.92 119.79,455.18 119.94,452.21 120.06,449.65 120.09,448.98 120.24,445.48 120.39,441.68 120.55,437.53 120.70,433.01 120.82,429.09 120.85,428.07 121.00,422.72 121.15,416.92 121.31,410.66 121.46,403.91 121.58,398.16 121.61,396.67 121.76,388.95 121.91,380.79 122.07,372.28 122.22,363.53 122.34,356.50 122.37,354.76 122.52,346.22 122.67,338.29 122.83,331.36 122.98,325.87 123.10,322.78 123.13,322.21 123.28,320.68" fill="none" stroke="#D95319" stroke-width="1.5" stroke-dasharray="5.4 5.7" stroke-dashoffset="2.98" stroke-linejoin="round"/>
<polyline clip-path="url(#clip-c)" points="123.28,320.68 123.43,321.22 123.59,323.60 123.74,327.62 123.86,331.81 123.89,332.97 124.04,339.28 124.19,346.22 124.35,353.48 124.50,360.81 124.62,366.62 124.65,368.06 124.80,375.09 124.95,381.85 125.11,388.30 125.26,394.43 125.38,399.12 125.41,400.26 125.56,405.79 125.71,411.07 125.87,416.11 126.02,420.94 126.14,424.68 126.17,425.59 126.32,430.10 126.47,434.38 126.63,438.39 126.78,442.15 126.90,445.00 126.93,445.69 127.08,449.02 127.23,452.17 127.39,455.16 127.54,458.01 127.66,460.19 127.69,460.72 127.84,463.33 127.99,465.83 128.15,468.24 128.30,470.56 128.42,472.35 128.45,472.79 128.60,474.90 128.75,476.92 128.91,478.84 129.06,480.68 129.18,482.09 129.21,482.44 129.36,484.12 129.51,485.72 129.67,487.26 129.82,488.74 129.94,489.88 129.97,490.16 130.12,491.52 130.27,492.82 130.43,494.08 130.58,495.29 130.70,496.23 130.73,496.46 130.88,497.58 131.03,498.66 131.19,499.71 131.34,500.72 131.46,501.50 131.49,501.69 131.64,502.63 131.79,503.54 131.95,504.42 132.10,505.27 132.22,505.93 132.25,506.09 132.40,506.89 132.55,507.67 132.71,508.44 132.86,509.19 132.98,509.77 133.01,509.92 133.16,510.63 133.31,511.33 133.47,512.01 133.62,512.68 133.74,513.20 133.77,513.33 133.92,513.96 134.07,514.58 134.23,515.18 134.38,515.77 134.50,516.22 134.53,516.34 134.68,516.89 134.83,517.43 134.99,517.96 135.14,518.47 135.26,518.87 135.29,518.97 135.44,519.45 135.59,519.92 135.75,520.38 135.90,520.82 136.02,521.16 136.05,521.25 136.20,521.66 136.35,522.06 136.51,522.45 136.66,522.83 136.78,523.12 136.81,523.19 136.96,523.54 137.11,523.88 137.27,524.20 137.42,524.52 137.54,524.76 137.57,524.82 137.72,525.12 137.87,525.42 138.03,525.71 138.18,525.99 138.30,526.21 138.33,526.27 138.48,526.54 138.63,526.81 138.79,527.07 138.94,527.33 139.06,527.53 139.09,527.58 139.24,527.83 139.39,528.07 139.55,528.31 139.70,528.55 139.82,528.74 139.85,528.78 140.00,529.01 140.15,529.23 140.31,529.45 140.46,529.67 140.58,529.84 140.61,529.89 140.76,530.10 140.91,530.30 141.07,530.51 141.22,530.71 141.34,530.87 141.37,530.91 141.52,531.10 142.10,531.82 142.86,532.71 143.62,533.54 144.38,534.33 145.14,535.08 145.90,535.79 146.66,536.46 147.42,537.11 148.18,537.72 148.94,538.30 149.70,538.86 150.46,539.39 151.22,539.89 151.98,540.38 152.74,540.84 153.50,541.29 154.26,541.72 155.02,542.14 155.78,542.55 156.54,542.94 157.30,543.32 157.45,543.40 157.76,543.55 158.06,543.70 158.36,543.85 158.67,544.00 158.82,544.07 158.97,544.14 159.28,544.28 159.58,544.42 159.88,544.56 160.19,544.69 160.34,544.75 160.49,544.82 160.80,544.93 161.10,545.05 161.40,545.15 161.71,545.25 161.86,545.29 162.01,545.33 162.32,545.40 162.62,545.46 162.92,545.50 163.23,545.53 163.38,545.53 163.53,545.54 163.84,545.52 164.14,545.49 164.44,545.45 164.75,545.38 164.90,545.35 165.05,545.31 165.36,545.22 165.66,545.12 165.96,545.01 166.27,544.89 166.42,544.83 166.57,544.77 166.88,544.63 167.18,544.49 167.48,544.34 167.79,544.19 167.94,544.11 168.09,544.03 168.40,543.86 168.70,543.69 169.00,543.51 169.31,543.33 169.46,543.24 169.61,543.14 170.22,542.75 170.98,542.25 171.74,541.73 172.50,541.22 173.26,540.72 174.02,540.22 174.78,539.72 175.54,539.19 176.30,538.65 177.06,538.09 177.82,537.51 178.58,536.90 179.34,536.27 180.10,535.61 180.86,534.91 181.62,534.16 182.38,533.38 183.14,532.54 183.90,531.64 184.66,530.68 184.81,530.47 184.96,530.27 185.12,530.06 185.27,529.85 185.42,529.63 185.57,529.41 185.72,529.18 185.88,528.94 186.03,528.70 186.18,528.44 186.33,528.18 186.48,527.91 186.64,527.63 186.79,527.34 186.94,527.04 187.09,526.73 187.24,526.42 187.40,526.09 187.55,525.76 187.70,525.41 187.85,525.06 188.00,524.69 188.16,524.32 188.31,523.93 188.46,523.53 188.61,523.12 188.76,522.71 188.92,522.27 189.07,521.83 189.22,521.38 189.37,520.91 189.52,520.43 189.68,519.94 189.83,519.44 189.98,518.92 190.13,518.39 190.28,517.85 190.44,517.29 190.59,516.72 190.74,516.14 190.89,515.54 191.04,514.93 191.20,514.30 191.35,513.66 191.50,513.00 191.65,512.31 191.80,511.58 191.96,510.81 192.11,510.00 192.26,509.16 192.41,508.27 192.56,507.35 192.72,506.40 192.87,505.42 193.02,504.41 193.17,503.38 193.32,502.33 193.48,501.26 193.63,500.18 193.78,499.09 193.93,498.00 194.08,496.91 194.24,495.83 194.39,494.77 194.54,493.72 194.69,492.69 194.84,491.65 195.00,490.60 195.15,489.55 195.30,488.49 195.45,487.41 195.60,486.32 195.76,485.21 195.91,484.08 196.06,482.93 196.21,481.75 196.36,480.54 196.52,479.29 196.67,478.00 196.82,476.68 196.97,475.30 197.12,473.87 197.28,472.39 197.43,470.83 197.58,469.21 197.73,467.51 197.88,465.73 198.04,463.85 198.19,461.87 198.34,459.78 198.49,457.57 198.64,455.23 198.80,452.74 198.95,450.10 199.10,447.29 199.25,444.30 199.40,441.11 199.56,437.70 199.71,434.06 199.86,430.16 200.01,426.00 200.16,421.52 200.32,416.67 200.47,411.44 200.62,405.84 200.77,399.85 200.92,393.49 201.08,386.77 201.23,379.72 201.38,372.38 201.53,364.80 201.68,357.07 201.84,349.30 201.99,341.61 202.14,334.18 202.29,327.18 202.44,320.80 202.60,315.27 202.75,310.77 202.90,307.47 203.05,305.50" fill="none" stroke="#D95319" stroke-width="1.5" stroke-dasharray="5.4 5.7" stroke-dashoffset="0.00" stroke-linejoin="round"/>
<polyline clip-path="url(#clip-c)" points="203.05,305.50 203.20,304.84 203.36,305.38 203.51,307.07 203.66,309.79 203.81,313.42 203.96,317.80 204.12,322.77 204.27,328.17 204.42,333.87 204.57,339.74 204.72,345.68 204.88,351.61 205.03,357.47 205.18,363.20 205.33,368.77 205.48,374.17 205.64,379.38 205.79,384.38 205.94,389.18 206.09,393.78 206.24,398.18 206.40,402.39 206.55,406.42 206.70,410.27 206.85,413.96 207.00,417.49 207.16,420.87 207.31,424.12 207.46,427.23 207.61,430.23 207.76,433.11 207.92,435.88 208.07,438.74 208.22,441.81 208.37,445.00 208.52,448.24 208.68,451.46 208.83,454.58 208.98,457.57 209.13,460.36 209.28,462.93 209.44,465.23 209.59,467.23 209.74,468.90 209.89,470.37 210.04,471.78 210.20,473.14 210.35,474.45 210.50,475.71 210.65,476.92 210.80,478.10 210.96,479.23 211.11,480.33 211.26,481.38 211.41,482.41 211.56,483.40 211.72,484.35 211.87,485.28 212.02,486.18 212.17,487.05 212.32,487.90 212.48,488.72 212.63,489.52 212.78,490.29 212.93,491.04 213.08,491.77 213.24,492.48 213.39,493.17 213.54,493.85 213.69,494.50 213.84,495.14 214.00,495.76 214.15,496.37 214.30,496.96 214.45,497.53 214.60,498.10 214.76,498.65 214.91,499.18 215.06,499.71 215.21,500.22 215.36,500.72 215.52,501.21 215.67,501.69 215.82,502.16 215.97,502.62 216.12,503.07 216.28,503.52 216.43,503.97 216.58,504.41 216.73,504.84 216.88,505.27 217.04,505.69 217.19,506.11 217.34,506.52 217.49,506.93 217.64,507.33 217.80,507.72 217.95,508.11 218.10,508.49 218.25,508.86 218.40,509.23 218.56,509.59 218.71,509.95 218.86,510.30 219.01,510.64 219.16,510.98 219.32,511.31 219.47,511.63 219.62,511.95 219.77,512.26 219.92,512.56 220.08,512.86 220.23,513.15 220.38,513.43 220.53,513.71 220.68,513.98 220.84,514.24 220.99,514.50 221.14,514.75 221.29,514.99 221.90,515.89 222.66,516.91 223.42,517.85 224.18,518.73 224.94,519.55 225.70,520.31 226.46,521.03 227.22,521.70 227.98,522.33 228.74,522.93 229.50,523.49 230.26,524.02 231.02,524.53 231.78,525.01 232.54,525.46 233.30,525.89 234.06,526.30 234.82,526.69 235.58,527.05 236.34,527.39 237.10,527.71 237.86,528.01 238.62,528.28 239.38,528.55 240.14,528.79 240.90,529.02 241.66,529.24 242.42,529.45 243.18,529.65 243.94,529.84 244.70,530.02 245.46,530.19 246.22,530.36 246.98,530.52 247.74,530.68 248.50,530.83 249.26,530.98 250.02,531.13 250.78,531.27 251.54,531.42 252.30,531.56 253.06,531.70 253.82,531.83 254.58,531.97 255.34,532.10 256.10,532.22 256.86,532.34 257.62,532.46 258.38,532.58 259.14,532.69 259.90,532.80 260.66,532.91 261.42,533.01 262.18,533.11 262.94,533.21 263.70,533.31 264.46,533.41 265.22,533.50 265.98,533.59 266.74,533.68 267.50,533.77 268.26,533.85 269.02,533.94 269.78,534.02 270.54,534.10 271.30,534.17 272.06,534.25 272.82,534.33 273.58,534.40 274.34,534.47 275.10,534.54 275.86,534.61 276.62,534.68 277.38,534.74 278.14,534.81 278.90,534.87 279.66,534.93 280.42,535.00 281.18,535.06 281.94,535.12 282.70,535.17 283.46,535.23 284.22,535.29 284.98,535.34 285.74,535.39 286.50,535.45 287.26,535.50 288.02,535.55 288.78,535.60 289.54,535.65 290.30,535.70 291.06,535.74 291.82,535.79 292.58,535.84 293.34,535.88 294.10,535.93 294.86,535.97 295.62,536.01 296.38,536.06 297.14,536.10 297.90,536.14 298.66,536.18 299.42,536.22 300.18,536.26 300.94,536.30 301.70,536.34 302.46,536.38 303.22,536.41 303.98,536.45 304.74,536.49 305.50,536.52 306.26,536.56 307.02,536.59 307.78,536.63 308.54,536.66 309.30,536.70 310.06,536.73 310.82,536.76 311.58,536.80 312.34,536.83 313.10,536.86 313.86,536.89 314.62,536.92 315.38,536.95 316.14,536.98 316.90,537.01 317.66,537.04 318.42,537.07 319.18,537.10 319.94,537.13 320.70,537.16 321.46,537.19 322.22,537.22 322.98,537.24 323.74,537.27 324.50,537.30 325.26,537.33 326.02,537.35 326.78,537.38 327.54,537.40 328.30,537.43 329.06,537.45 329.82,537.48 330.58,537.50 331.34,537.53 332.10,537.55 332.86,537.58 333.62,537.60 334.38,537.63 335.14,537.65 335.90,537.67 336.66,537.70 337.42,537.72 338.18,537.74 338.94,537.76 339.70,537.79 340.46,537.81 341.22,537.83 341.98,537.85 342.74,537.87 343.50,537.90" fill="none" stroke="#D95319" stroke-width="1.5" stroke-dasharray="5.4 5.7" stroke-dashoffset="0.00" stroke-linejoin="round"/>
<rect x="225.85" y="376.15" width="112.89999999999999" height="50.89999999999999" fill="none" stroke="#808000" stroke-width="5.3"/>
<rect x="279.9" y="373.5" width="5.4" height="56.19999999999999" fill="#808000"/>
<rect x="251.3" y="372.5" width="3.799999999999983" height="7.3" fill="#fff"/>
<rect x="308.2" y="372.5" width="3.8000000000000114" height="7.3" fill="#fff"/>
<rect x="39.5" y="305.5" width="304.0" height="241.0" fill="none" stroke="#808080" stroke-width="1.0"/>
<path d="M100.30 546.5v-3M100.30 305.5v3M161.10 546.5v-3M161.10 305.5v3M221.90 546.5v-3M221.90 305.5v3M282.70 546.5v-3M282.70 305.5v3M39.5 486.25h3M343.5 486.25h-3M39.5 426.00h3M343.5 426.00h-3M39.5 365.75h3M343.5 365.75h-3" stroke="#808080" stroke-width="1.0" fill="none"/>
<text class="tk" transform="rotate(0.05 39.00 559.4)" x="39.00" y="559.4" text-anchor="middle">50</text>
<text class="tk" transform="rotate(0.05 99.80 559.4)" x="99.80" y="559.4" text-anchor="middle">60</text>
<text class="tk" transform="rotate(0.05 160.60 559.4)" x="160.60" y="559.4" text-anchor="middle">70</text>
<text class="tk" transform="rotate(0.05 221.40 559.4)" x="221.40" y="559.4" text-anchor="middle">80</text>
<text class="tk" transform="rotate(0.05 282.20 559.4)" x="282.20" y="559.4" text-anchor="middle">90</text>
<text class="tk" transform="rotate(0.05 343.00 559.4)" x="343.00" y="559.4" text-anchor="middle">100</text>
<text class="tk" transform="rotate(0.05 34.9 550.30)" x="34.9" y="550.30" text-anchor="end">0</text>
<text class="tk" transform="rotate(0.05 34.9 490.05)" x="34.9" y="490.05" text-anchor="end">0.25</text>
<text class="tk" transform="rotate(0.05 34.9 429.80)" x="34.9" y="429.80" text-anchor="end">0.5</text>
<text class="tk" transform="rotate(0.05 34.9 369.55)" x="34.9" y="369.55" text-anchor="end">0.75</text>
<text class="tk" transform="rotate(0.05 34.9 309.60)" x="34.9" y="309.60" text-anchor="end">1</text>
<text class="lb" transform="rotate(0.05 191.3 574.0)" x="191.3" y="574.0" text-anchor="middle">Frequency [MHz]</text>
<text class="cap" transform="rotate(0.05 189.5 594.5)" x="189.5" y="594.5" text-anchor="middle">(c)</text>
<text class="lb" letter-spacing="0.07" transform="translate(9.2,425.0) rotate(-89.95)" text-anchor="middle">Normalised |S<tspan dy="4.3" font-size="8.0">21</tspan><tspan dy="-4.3">|, |H</tspan><tspan dy="4.3" font-size="8.0">1</tspan><tspan dy="-4.3">|</tspan></text>
</g>
<g id="plot-d">
<clipPath id="clip-d"><rect x="395.5" y="305.5" width="304.0" height="241.0"/></clipPath>
<line x1="522.1" y1="305.5" x2="522.1" y2="546.5" stroke="#8c8c8c" stroke-width="0.72" stroke-dasharray="6.7 4.58" stroke-dashoffset="2.1"/>
<polyline clip-path="url(#clip-d)" points="395.50,532.28 396.26,532.06 397.02,531.84 397.78,531.61 398.54,531.37 399.30,531.13 400.06,530.88 400.82,530.62 401.58,530.36 402.34,530.08 403.10,529.80 403.86,529.52 404.62,529.22 405.38,528.92 406.14,528.60 406.90,528.28 407.66,527.94 408.42,527.59 409.18,527.23 409.94,526.85 410.70,526.45 411.46,526.03 412.22,525.60 412.98,525.16 413.74,524.70 414.50,524.22 415.26,523.73 416.02,523.22 416.78,522.70 417.54,522.16 418.30,521.61 419.06,521.05 419.82,520.47 420.58,519.91 421.34,519.38 422.10,518.87 422.86,518.34 423.62,517.79 424.38,517.17 425.14,516.47 425.90,515.65 426.66,514.69 427.42,513.59 428.18,512.35 428.94,510.98 429.70,509.49 430.28,508.27 430.43,507.94 430.46,507.87 430.58,507.60 430.73,507.26 430.89,506.92 431.04,506.57 431.19,506.22 431.22,506.15 431.34,505.86 431.49,505.50 431.65,505.14 431.80,504.77 431.95,504.40 431.98,504.32 432.10,504.02 432.25,503.64 432.41,503.25 432.56,502.85 432.71,502.45 432.74,502.36 432.86,502.03 433.01,501.61 433.17,501.18 433.32,500.75 433.47,500.30 433.50,500.21 433.62,499.85 433.77,499.38 433.93,498.91 434.08,498.43 434.23,497.94 434.26,497.84 434.38,497.44 434.53,496.93 434.69,496.42 434.84,495.89 434.99,495.35 435.02,495.24 435.14,494.80 435.29,494.24 435.45,493.67 435.60,493.09 435.75,492.50 435.78,492.38 435.90,491.90 436.05,491.28 436.21,490.66 436.36,490.02 436.51,489.37 436.54,489.23 436.66,488.70 436.81,488.02 436.97,487.33 437.12,486.63 437.27,485.91 437.30,485.76 437.42,485.17 437.57,484.42 437.73,483.65 437.88,482.87 438.03,482.07 438.06,481.91 438.18,481.26 438.33,480.42 438.49,479.56 438.64,478.68 438.79,477.78 438.82,477.60 438.94,476.85 439.09,475.90 439.25,474.93 439.40,473.92 439.55,472.89 439.58,472.68 439.70,471.83 439.85,470.74 440.01,469.61 440.16,468.45 440.31,467.26 440.34,467.02 440.46,466.03 440.61,464.77 440.77,463.46 440.92,462.11 441.07,460.72 441.10,460.44 441.22,459.28 441.37,457.80 441.53,456.26 441.68,454.68 441.83,453.04 441.86,452.70 441.98,451.34 442.13,449.58 442.29,447.76 442.44,445.88 442.59,443.93 442.62,443.53 442.74,441.90 442.89,439.80 443.05,437.63 443.20,435.37 443.35,433.03 443.38,432.55 443.50,430.59 443.65,428.06 443.81,425.41 443.96,422.63 444.11,419.73 444.14,419.13 444.26,416.69 444.41,413.52 444.57,410.21 444.72,406.77 444.87,403.19 444.90,402.45 445.02,399.47 445.17,395.61 445.33,391.62 445.48,387.51 445.63,383.27 445.66,382.41 445.78,378.92 445.93,374.48 446.09,369.95 446.24,365.37 446.39,360.75 446.42,359.83 446.54,356.14 446.69,351.55 446.85,347.05 447.00,342.67 447.15,338.47 447.18,337.66 447.30,334.51 447.45,330.84 447.61,327.54 447.76,324.66 447.91,322.27 447.94,321.86 448.06,320.42 448.21,319.16 448.37,318.51 448.52,318.51 448.67,319.16 448.70,319.37 448.82,320.44 448.97,322.32 449.13,324.77 449.28,327.74 449.43,331.16 449.46,331.90 449.58,334.98 449.73,339.14 449.89,343.57 450.04,348.21 450.19,353.00 450.22,353.97 450.34,357.89 450.49,362.83 450.65,367.78 450.80,372.71 450.95,377.59 450.98,378.56 451.10,382.40 451.25,387.10 451.41,391.70 451.56,396.17 451.71,400.51 451.74,401.36 451.86,404.71 452.01,408.78 452.17,412.70 452.32,416.48 452.47,420.11 452.50,420.82 452.62,423.61 452.77,426.97 452.93,430.19 453.08,433.29 453.23,436.28 453.26,436.86 453.38,439.16 453.53,441.95 453.69,444.63 453.84,447.21 453.99,449.71 454.02,450.20 454.14,452.11 454.29,454.43 454.45,456.67 454.60,458.82 454.75,460.90 454.78,461.31 454.90,462.90 455.05,464.84 455.21,466.70 455.36,468.50 455.51,470.24 455.54,470.58 455.66,471.91 455.81,473.53 455.97,475.09 456.12,476.60 456.27,478.05 456.30,478.34 456.42,479.46 456.57,480.81 456.73,482.12 456.88,483.38 457.03,484.60 457.06,484.84 457.18,485.78 457.33,486.92 457.49,488.02 457.64,489.08 457.79,490.11 457.82,490.31 457.94,491.11 458.09,492.08 458.25,493.02 458.40,493.94 458.55,494.83 458.58,495.00 458.70,495.69 458.85,496.53 459.01,497.35 459.16,498.15 459.31,498.92 459.34,499.08 459.46,499.68 459.61,500.41 459.77,501.13 459.92,501.83 460.07,502.51 460.10,502.64 460.22,503.17 460.37,503.82 460.53,504.45 460.68,505.07 460.83,505.67 460.86,505.79 460.98,506.25 461.13,506.83 461.29,507.39 461.44,507.93 461.59,508.47 461.62,508.57 461.74,508.99 461.89,509.50 462.05,510.00 462.20,510.49 462.35,510.96 462.38,511.06 462.50,511.43 462.65,511.89 462.81,512.33 462.96,512.77 463.11,513.20 463.14,513.29 463.26,513.63 463.41,514.04 463.57,514.45 463.72,514.85 463.87,515.24 463.90,515.32 464.02,515.62 464.17,516.00 464.33,516.37 464.48,516.73 464.63,517.09 464.66,517.16 464.78,517.44 464.93,517.78 465.09,518.12 465.24,518.45 465.39,518.77 465.42,518.84 465.54,519.09 465.69,519.40 465.85,519.71 466.00,520.01 466.15,520.31 466.18,520.37 466.30,520.60 466.45,520.88 466.61,521.16 466.76,521.44 466.94,521.76 467.70,523.03 468.46,524.13 469.22,525.08 469.98,525.94 470.74,526.77 471.50,527.60 472.26,528.45 473.02,529.27 473.78,530.05 474.54,530.79 475.30,531.49 476.06,532.16 476.82,532.79 477.58,533.38 478.34,533.92 479.10,534.43 479.86,534.91 480.62,535.36 481.38,535.80 482.14,536.23 482.90,536.64 483.66,537.06 484.42,537.47 485.18,537.88 485.94,538.29 486.70,538.70 487.46,539.10 488.22,539.49 488.98,539.87 489.74,540.24 490.50,540.61 491.26,540.96 492.02,541.31 492.78,541.64 493.54,541.97 494.30,542.29 495.06,542.61 495.82,542.91 496.58,543.20 497.34,543.48 497.83,543.65 498.10,543.75 498.13,543.76 498.43,543.86 498.74,543.97 498.86,544.01 499.04,544.07 499.35,544.16 499.62,544.25 499.65,544.26 499.95,544.35 500.26,544.44 500.38,544.48 500.56,544.53 500.87,544.61 501.14,544.68 501.17,544.69 501.47,544.76 501.78,544.83 501.90,544.85 502.08,544.89 502.39,544.94 502.66,544.98 502.69,544.98 502.99,545.01 503.30,545.04 503.42,545.05 503.60,545.05 503.91,545.05 504.18,545.05 504.21,545.04 504.51,545.02 504.82,544.99 504.94,544.98 505.12,544.95 505.43,544.90 505.70,544.85 505.73,544.84 506.03,544.77 506.34,544.70 506.46,544.66 506.64,544.61 506.95,544.53 507.22,544.44 507.25,544.43 507.55,544.33 507.86,544.23 507.98,544.19 508.16,544.13 508.47,544.02 508.74,543.91 508.77,543.90 509.07,543.78 509.38,543.66 509.50,543.62 509.68,543.54 509.99,543.42 510.26,543.30 511.02,542.96 511.78,542.59 512.54,542.19 513.30,541.78 514.06,541.35 514.82,540.92 515.58,540.49 516.34,540.07 517.10,539.68 517.86,539.30 518.62,538.92 519.38,538.54 520.14,538.16 520.90,537.78 521.66,537.38 522.42,536.97 523.18,536.52 523.94,536.05 524.70,535.55 525.46,535.03 526.22,534.47 526.98,533.89 527.74,533.28 528.50,532.64 529.26,531.97 530.02,531.27 530.78,530.54 531.54,529.78 532.30,528.99 533.06,528.17 533.82,527.31 534.58,526.44 535.34,525.53 536.10,524.59 536.86,523.61 537.62,522.57 538.38,521.47 539.14,520.32 539.90,519.10 540.66,517.82 541.42,516.46 542.18,515.02 542.94,513.50 543.70,511.89 544.46,510.18 545.22,508.37 545.98,506.43 546.59,504.79 546.74,504.36 546.89,503.93 547.04,503.50 547.20,503.06 547.35,502.61 547.50,502.16 547.65,501.70 547.80,501.25 547.96,500.79 548.11,500.34 548.26,499.89 548.41,499.44 548.56,498.99 548.72,498.54 548.87,498.09 549.02,497.64 549.17,497.18 549.32,496.72 549.48,496.26 549.63,495.79 549.78,495.32 549.93,494.84 550.08,494.36 550.24,493.86 550.39,493.37 550.54,492.86 550.69,492.34 550.84,491.81 551.00,491.27 551.15,490.72 551.30,490.15 551.45,489.57 551.60,488.98 551.76,488.37 551.91,487.74 552.06,487.09 552.21,486.42 552.36,485.73 552.52,485.01 552.67,484.28 552.82,483.51 552.97,482.72 553.12,481.90 553.28,481.05 553.43,480.16 553.58,479.22 553.73,478.14 553.88,476.94 554.04,475.63 554.19,474.20 554.34,472.68 554.49,471.05 554.64,469.35 554.80,467.56 554.95,465.71 555.10,463.80 555.25,461.85 555.40,459.87 555.56,457.87 555.71,455.88 555.86,453.91 556.01,451.98 556.16,450.11 556.32,448.32 556.47,446.64 556.62,444.97 556.77,443.26 556.92,441.52 557.08,439.75 557.23,437.93 557.38,436.08 557.53,434.18 557.68,432.24 557.84,430.25 557.99,428.22 558.14,426.13 558.29,424.00 558.44,421.81 558.60,419.57 558.75,417.27 558.90,414.91 559.05,412.51 559.20,410.27 559.36,408.20 559.51,406.27 559.66,404.45 559.81,402.71 559.96,401.01 560.12,399.31 560.27,397.58 560.42,395.76 560.57,393.83 560.72,391.72 560.88,389.41 561.03,386.83 561.18,383.94 561.33,380.67 561.48,377.08 561.64,373.36 561.79,369.52 561.94,365.58 562.09,361.56 562.24,357.46 562.40,353.31 562.55,349.14 562.70,344.96 562.85,340.80 563.00,336.70 563.16,332.69 563.31,328.81 563.46,325.09 563.61,321.58 563.76,318.31 563.92,315.33 564.07,312.67 564.22,310.38 564.37,308.49 564.52,307.03 564.68,306.03 564.83,305.50 564.98,305.44 565.13,305.83 565.28,306.65 565.44,307.89 565.59,309.51 565.74,311.51 565.89,313.83 566.04,316.46 566.20,319.35 566.35,322.47 566.50,325.78 566.65,329.25 566.80,332.85 566.96,336.54 567.11,340.30 567.26,344.09 567.41,347.90 567.56,351.70 567.72,355.47 567.87,359.20 568.02,362.86 568.17,366.46 568.32,369.98 568.48,373.41 568.63,376.74 568.78,379.97 568.93,382.97 569.08,385.66 569.24,388.08 569.39,390.26 569.54,392.25 569.69,394.08 569.84,395.78 570.00,397.38 570.15,398.91 570.30,400.41 570.45,401.91 570.60,403.42 570.76,404.98 570.91,406.62 571.06,408.35 571.21,410.20 571.36,412.20 571.52,414.33 571.67,416.46 571.82,418.53 571.97,420.56 572.12,422.54 572.28,424.47 572.43,426.35 572.58,428.19 572.73,429.99 572.88,431.75 573.04,433.46 573.19,435.14 573.34,436.78 573.49,438.38 573.64,439.94 573.80,441.47 573.95,442.96 574.10,444.42 574.25,445.85 574.40,447.25 574.56,448.73 574.71,450.34 574.86,452.05 575.01,453.84 575.16,455.70 575.32,457.59 575.47,459.50 575.62,461.42 575.77,463.33 575.92,465.21 576.08,467.05 576.23,468.85 576.38,470.58 576.53,472.24 576.68,473.82 576.84,475.32 576.99,476.72 577.14,478.01 577.29,479.20 577.44,480.28 577.60,481.23 577.75,482.06 577.90,482.76 578.05,483.38 578.20,483.98 578.36,484.56 578.51,485.13 578.66,485.68 578.81,486.22 578.96,486.75 579.12,487.26 579.27,487.76 579.42,488.24 579.57,488.72 579.72,489.18 579.88,489.63 580.03,490.07 580.18,490.51 580.33,490.93 580.48,491.34 580.64,491.75 580.79,492.15 580.94,492.53 581.09,492.92 581.24,493.29 581.40,493.66 581.55,494.03 581.70,494.38 581.85,494.73 582.00,495.08 582.16,495.42 582.31,495.76 582.46,496.09 582.61,496.42 582.76,496.75 582.92,497.07 583.07,497.39 583.22,497.71 583.98,499.26 584.74,500.75 585.50,502.15 586.26,503.46 587.02,504.69 587.78,505.85 588.54,506.94 589.30,507.95 590.06,508.90 590.82,509.79 591.58,510.63 592.34,511.42 593.10,512.17 593.86,512.88 594.62,513.55 595.38,514.18 596.14,514.78 596.90,515.36 597.66,515.90 598.42,516.42 599.18,516.91 599.94,517.39 600.70,517.84 601.46,518.27 602.22,518.68 602.98,519.08 603.74,519.46 604.50,519.82 605.26,520.17 606.02,520.50 606.78,520.83 607.54,521.14 608.30,521.44 609.06,521.72 609.82,522.00 610.58,522.26 611.34,522.51 612.10,522.75 612.86,522.98 613.62,523.20 614.38,523.41 615.14,523.61 615.90,523.80 616.66,523.99 617.42,524.16 618.18,524.33 618.94,524.50 619.70,524.66 620.46,524.81 621.22,524.96 621.98,525.10 622.74,525.24 623.50,525.37 624.26,525.50 625.02,525.62 625.78,525.74 626.54,525.86 627.30,525.98 628.06,526.09 628.82,526.20 629.58,526.30 630.34,526.41 631.10,526.51 631.86,526.61 632.62,526.71 633.38,526.80 634.14,526.90 634.90,527.00 635.66,527.09 636.42,527.18 637.18,527.28 637.94,527.37 638.70,527.46 639.46,527.55 640.22,527.64 640.98,527.73 641.74,527.82 642.50,527.91 643.26,527.99 644.02,528.07 644.78,528.16 645.54,528.24 646.30,528.32 647.06,528.39 647.82,528.47 648.58,528.55 649.34,528.62 650.10,528.70 650.86,528.77 651.62,528.84 652.38,528.91 653.14,528.98 653.90,529.05 654.66,529.11 655.42,529.18 656.18,529.24 656.94,529.31 657.70,529.37 658.46,529.43 659.22,529.49 659.98,529.55 660.74,529.61 661.50,529.67 662.26,529.72 663.02,529.78 663.78,529.83 664.54,529.89 665.30,529.94 666.06,529.99 666.82,530.04 667.58,530.09 668.34,530.14 669.10,530.18 669.86,530.23 670.62,530.28 671.38,530.32 672.14,530.36 672.90,530.41 673.66,530.45 674.42,530.49 675.18,530.53 675.94,530.57 676.70,530.61 677.46,530.65 678.22,530.69 678.98,530.73 679.74,530.77 680.50,530.80 681.26,530.84 682.02,530.87 682.78,530.91 683.54,530.94 684.30,530.98 685.06,531.01 685.82,531.04 686.58,531.08 687.34,531.11 688.10,531.14 688.86,531.17 689.62,531.20 690.38,531.23 691.14,531.26 691.90,531.29 692.66,531.32 693.42,531.35 694.18,531.37 694.94,531.40 695.70,531.43 696.46,531.46 697.22,531.48 697.98,531.51 698.74,531.53 699.50,531.56" fill="none" stroke="#0072BD" stroke-width="1.5" stroke-linejoin="round"/>
<polyline clip-path="url(#clip-d)" points="395.50,533.00 396.26,532.80 397.02,532.59 397.78,532.37 398.54,532.15 399.30,531.93 400.06,531.70 400.82,531.47 401.58,531.23 402.34,530.99 403.10,530.74 403.86,530.49 404.62,530.23 405.38,529.97 406.14,529.70 406.90,529.43 407.66,529.15 408.42,528.86 409.18,528.57 409.94,528.28 410.70,527.98 411.46,527.67 412.22,527.35 412.98,527.02 413.74,526.68 414.50,526.33 415.26,525.97 416.02,525.59 416.78,525.20 417.54,524.79 418.30,524.36 419.06,523.91 419.82,523.44 420.58,522.94 421.34,522.41 422.10,521.86 422.86,521.28 423.62,520.67 424.38,520.03 425.14,519.36 425.90,518.66 426.66,517.93 427.42,517.17 428.18,516.37 428.94,515.52 429.70,514.62 430.46,513.67 431.22,512.65 431.98,511.56 432.74,510.37 433.50,509.09 434.26,507.70 435.02,506.20 435.78,504.59 436.54,502.86 437.30,501.01 438.06,499.02 438.24,498.52 438.39,498.10 438.55,497.66 438.70,497.22 438.82,496.86 438.85,496.77 439.00,496.30 439.15,495.83 439.31,495.35 439.46,494.86 439.58,494.46 439.61,494.36 439.76,493.85 439.91,493.33 440.07,492.80 440.22,492.26 440.34,491.82 440.37,491.71 440.52,491.16 440.67,490.59 440.83,490.02 440.98,489.43 441.10,488.96 441.13,488.84 441.28,488.24 441.43,487.63 441.59,487.01 441.74,486.38 441.86,485.87 441.89,485.74 442.04,485.09 442.19,484.44 442.35,483.77 442.50,483.10 442.62,482.56 442.65,482.42 442.80,481.73 442.95,481.03 443.11,480.32 443.26,479.60 443.38,479.02 443.41,478.88 443.56,478.15 443.71,477.40 443.87,476.65 444.02,475.90 444.14,475.28 444.17,475.13 444.32,474.38 444.47,473.64 444.63,472.93 444.78,472.23 444.90,471.68 444.93,471.55 445.08,470.88 445.23,470.22 445.39,469.58 445.54,468.94 445.66,468.44 445.69,468.32 445.84,467.70 445.99,467.08 446.15,466.47 446.30,465.85 446.42,465.36 446.45,465.24 446.60,464.62 446.75,463.99 446.91,463.35 447.06,462.71 447.18,462.18 447.21,462.05 447.36,461.37 447.51,460.67 447.67,459.95 447.82,459.21 447.94,458.60 447.97,458.44 448.12,457.64 448.27,456.80 448.43,455.93 448.58,455.01 448.70,454.25 448.73,454.05 448.88,453.04 449.03,451.98 449.19,450.86 449.34,449.68 449.46,448.69 449.49,448.44 449.64,447.12 449.79,445.72 449.95,444.24 450.10,442.68 450.22,441.36 450.25,441.02 450.40,439.25 450.55,437.38 450.71,435.39 450.86,433.28 450.98,431.50 451.01,431.03 451.16,428.65 451.31,426.17 451.47,423.57 451.62,420.87 451.74,418.62 451.77,418.04 451.92,415.10 452.07,412.04 452.23,408.86 452.38,405.54 452.50,402.79 452.53,402.09 452.68,398.52 452.83,394.80 452.99,390.96 453.14,386.98 453.26,383.70 453.29,382.87 453.44,378.63 453.59,374.28 453.75,369.82 453.90,365.26 454.02,361.55 454.05,360.62 454.20,355.92 454.35,351.18 454.51,346.43 454.66,341.72 454.78,337.99 454.81,337.07 454.96,332.53 455.11,328.16 455.27,324.01 455.42,320.14 455.54,317.28 455.57,316.61 455.72,313.47 455.87,310.79 456.03,308.61 456.18,306.98 456.30,306.10 456.33,305.94 456.48,305.50" fill="none" stroke="#D95319" stroke-width="1.5" stroke-dasharray="5.4 5.7" stroke-dashoffset="0.00" stroke-linejoin="round"/>
<polyline clip-path="url(#clip-d)" points="456.48,305.50 456.63,305.66 456.79,306.38 456.94,307.65 457.06,309.05 457.09,309.45 457.24,311.73 457.39,314.46 457.55,317.57 457.70,321.02 457.82,323.99 457.85,324.76 458.00,328.72 458.15,332.86 458.31,337.13 458.46,341.49 458.58,345.02 458.61,345.90 458.76,350.33 458.91,354.75 459.07,359.14 459.22,363.48 459.34,366.90 459.37,367.75 459.52,371.94 459.67,376.04 459.83,380.05 459.98,383.96 460.10,387.01 460.13,387.77 460.28,391.47 460.43,395.07 460.59,398.57 460.74,401.97 460.86,404.62 460.89,405.28 461.04,408.48 461.19,411.60 461.35,414.63 461.50,417.57 461.62,419.86 461.65,420.43 461.80,423.21 461.95,425.91 462.11,428.55 462.26,431.12 462.38,433.14 462.41,433.64 462.56,436.12 462.71,438.56 462.87,440.95 463.02,443.29 463.14,445.12 463.17,445.57 463.32,447.81 463.47,449.99 463.63,452.12 463.78,454.20 463.90,455.82 463.93,456.22 464.08,458.18 464.23,460.08 464.39,461.94 464.54,463.73 464.66,465.12 464.69,465.47 464.84,467.15 464.99,468.77 465.15,470.34 465.30,471.85 465.42,473.02 465.45,473.31 465.60,474.71 465.75,476.05 465.91,477.35 466.06,478.58 466.18,479.53 466.21,479.77 466.36,480.90 466.51,482.00 466.67,483.06 466.82,484.10 466.94,484.90 466.97,485.10 467.12,486.08 467.27,487.02 467.43,487.95 467.58,488.84 467.70,489.54 467.73,489.72 467.88,490.57 468.03,491.39 468.19,492.20 468.34,492.99 468.46,493.61 468.49,493.76 468.64,494.51 468.79,495.24 468.95,495.95 469.10,496.65 469.22,497.20 469.25,497.34 469.40,498.01 469.55,498.66 469.71,499.30 469.86,499.93 469.98,500.42 470.01,500.54 470.16,501.15 470.31,501.74 470.47,502.32 470.62,502.89 470.74,503.34 470.77,503.45 470.92,504.00 471.07,504.54 471.23,505.07 471.38,505.59 471.50,506.01 471.53,506.11 471.68,506.61 471.83,507.11 471.99,507.60 472.14,508.08 472.26,508.45 472.29,508.55 472.44,509.01 472.59,509.47 472.75,509.91 472.90,510.35 473.02,510.70 473.05,510.79 473.20,511.21 473.35,511.63 473.51,512.04 473.66,512.45 473.78,512.77 473.81,512.85 473.96,513.24 474.11,513.62 474.27,514.00 474.42,514.38 474.54,514.67 474.57,514.74 474.72,515.10 475.30,516.43 476.06,518.05 476.82,519.55 477.58,520.94 478.34,522.23 479.10,523.42 479.86,524.53 480.62,525.57 481.38,526.55 482.14,527.47 482.90,528.33 483.66,529.14 484.42,529.92 485.18,530.65 485.94,531.34 486.70,532.00 487.46,532.63 488.22,533.24 488.98,533.81 489.74,534.37 490.50,534.90 491.26,535.41 492.02,535.90 492.78,536.38 493.54,536.85 494.30,537.30 495.06,537.74 495.82,538.16 496.58,538.57 497.34,538.96 498.10,539.33 498.86,539.69 499.62,540.03 500.38,540.36 501.14,540.67 501.90,540.96 502.66,541.25 503.42,541.51 504.18,541.77 504.94,542.01 505.70,542.25 506.46,542.47 507.22,542.68 507.98,542.89 508.74,543.09 509.50,543.29 510.26,543.48 511.02,543.67 511.78,543.86 512.54,544.04 512.84,544.12 513.15,544.19 513.30,544.23 513.45,544.26 513.76,544.33 514.06,544.40 514.36,544.47 514.67,544.54 514.82,544.58 514.97,544.61 515.28,544.67 515.58,544.74 515.88,544.80 516.19,544.85 516.34,544.88 516.49,544.90 516.80,544.95 517.10,544.99 517.40,545.02 517.71,545.05 517.86,545.06 518.01,545.07 518.32,545.07 518.62,545.07 518.92,545.05 519.23,545.02 519.38,545.00 519.53,544.98 519.84,544.91 520.14,544.83 520.44,544.73 520.75,544.61 520.90,544.55 521.05,544.48 521.36,544.34 521.66,544.19 521.96,544.04 522.27,543.88 522.42,543.79 522.57,543.72 522.88,543.56 523.18,543.42 523.48,543.28 523.79,543.14 523.94,543.08 524.09,543.01 524.40,542.88 524.70,542.75 525.00,542.63 525.46,542.44 526.22,542.15 526.98,541.87 527.74,541.59 528.50,541.30 529.26,540.98 530.02,540.62 530.78,540.15 531.54,539.42 532.30,538.43 533.06,537.24 533.82,535.94 534.58,534.69 535.34,533.73 536.10,532.98 536.86,532.21 537.62,531.41 538.38,530.58 539.14,529.73 539.90,528.84 540.66,527.91 541.42,526.94 542.18,525.94 542.94,524.88 543.70,523.77 544.46,522.60 545.22,521.37 545.98,520.07 546.74,518.69 547.50,517.22 548.26,515.64 549.02,513.94 549.78,512.11 550.54,510.14 551.30,508.03 551.57,507.23 551.73,506.78 551.88,506.32 552.03,505.85 552.06,505.76 552.18,505.38 552.33,504.90 552.49,504.41 552.64,503.92 552.79,503.42 552.82,503.32 552.94,502.91 553.09,502.40 553.25,501.88 553.40,501.35 553.55,500.82 553.58,500.71 553.70,500.27 553.85,499.72 554.01,499.16 554.16,498.59 554.31,498.01 554.34,497.89 554.46,497.42 554.61,496.82 554.77,496.21 554.92,495.58 555.07,494.95 555.10,494.82 555.22,494.31 555.37,493.65 555.53,492.98 555.68,492.30 555.83,491.61 555.86,491.47 555.98,490.90 556.13,490.18 556.29,489.45 556.44,488.70 556.59,487.94 556.62,487.78 556.74,487.16 556.89,486.37 557.05,485.56 557.20,484.73 557.35,483.89 557.38,483.72 557.50,483.03 557.65,482.16 557.81,481.26 557.96,480.35 558.11,479.42 558.14,479.23 558.26,478.46 558.41,477.49 558.57,476.50 558.72,475.48 558.87,474.44 558.90,474.23 559.02,473.38 559.17,472.30 559.33,471.19 559.48,470.05 559.63,468.89 559.66,468.65 559.78,467.70 559.93,466.48 560.09,465.24 560.24,463.96 560.39,462.66 560.42,462.39 560.54,461.32 560.69,459.95 560.85,458.55 561.00,457.11 561.15,455.64 561.18,455.34 561.30,454.13 561.45,452.58 561.61,450.99 561.76,449.36 561.91,447.69 561.94,447.35 562.06,445.97 562.21,444.21 562.37,442.41 562.52,440.55 562.67,438.65 562.70,438.26 562.82,436.70 562.97,434.69 563.13,432.64 563.28,430.53 563.43,428.37 563.46,427.93 563.58,426.19 563.73,423.98 563.89,421.75 564.04,419.49 564.19,417.20 564.22,416.74 564.34,414.89 564.49,412.55 564.65,410.18 564.80,407.79 564.95,405.36 564.98,404.88 565.10,402.91 565.25,400.44 565.41,397.94 565.56,395.41 565.71,392.86 565.74,392.35 565.86,390.30 566.01,387.72 566.17,385.13 566.32,382.53 566.47,379.92 566.50,379.40 566.62,377.32 566.77,374.74 566.93,372.17 567.08,369.63 567.23,367.13 567.26,366.63 567.38,364.68 567.53,362.29 567.69,359.97 567.84,357.74 567.99,355.62 568.02,355.21 568.14,353.62 568.29,351.75 568.45,350.03 568.60,348.48 568.75,347.11 568.78,346.86 568.90,345.94 569.05,344.97 569.21,344.22 569.36,343.71 569.51,343.42 569.54,343.40 569.66,343.38 569.81,343.58" fill="none" stroke="#D95319" stroke-width="1.5" stroke-dasharray="5.4 5.7" stroke-dashoffset="8.73" stroke-linejoin="round"/>
<polyline clip-path="url(#clip-d)" points="569.81,343.58 569.97,344.03 570.12,344.77 570.27,345.77 570.30,346.00 570.42,347.03 570.57,348.53 570.73,350.27 570.88,352.22 571.03,354.37 571.06,354.82 571.18,356.69 571.33,359.17 571.49,361.79 571.64,364.52 571.79,367.35 571.82,367.93 571.94,370.26 572.09,373.23 572.25,376.24 572.40,379.28 572.55,382.33 572.58,382.94 572.70,385.39 572.85,388.43 573.01,391.46 573.16,394.45 573.31,397.41 573.34,398.00 573.46,400.33 573.61,403.20 573.77,406.01 573.92,408.77 574.07,411.47 574.10,412.00 574.22,414.11 574.37,416.68 574.53,419.18 574.68,421.62 574.83,423.99 574.86,424.46 574.98,426.30 575.13,428.54 575.29,430.71 575.44,432.82 575.59,434.86 575.62,435.26 575.74,436.85 575.89,438.78 576.05,440.67 576.20,442.50 576.35,444.28 576.38,444.63 576.50,446.01 576.65,447.70 576.81,449.34 576.96,450.93 577.11,452.48 577.14,452.79 577.26,453.99 577.41,455.46 577.57,456.89 577.72,458.28 577.87,459.63 577.90,459.89 578.02,460.94 578.17,462.23 578.33,463.47 578.48,464.69 578.63,465.87 578.66,466.11 578.78,467.03 578.93,468.15 579.09,469.25 579.24,470.31 579.39,471.35 579.42,471.56 579.54,472.37 579.69,473.36 579.85,474.33 580.00,475.27 580.15,476.19 580.18,476.37 580.30,477.09 580.45,477.97 580.61,478.82 580.76,479.66 580.91,480.48 580.94,480.64 581.06,481.28 581.21,482.06 581.37,482.82 581.52,483.57 581.67,484.30 581.70,484.45 581.82,485.02 581.97,485.72 582.13,486.40 582.28,487.07 582.43,487.73 582.46,487.86 582.58,488.37 582.73,489.00 582.89,489.62 583.04,490.22 583.19,490.82 583.22,490.93 583.34,491.40 583.49,491.97 583.65,492.53 583.80,493.08 583.95,493.61 583.98,493.72 584.10,494.14 584.25,494.66 584.41,495.18 584.56,495.68 584.71,496.18 584.74,496.28 584.86,496.67 585.01,497.15 585.17,497.63 585.32,498.09 585.47,498.55 585.50,498.64 585.62,499.00 585.77,499.45 585.93,499.88 586.08,500.31 586.23,500.73 586.26,500.82 586.38,501.15 586.53,501.55 586.69,501.95 586.84,502.34 586.99,502.72 587.02,502.80 587.14,503.10 587.29,503.47 587.45,503.83 587.60,504.18 587.75,504.53 587.78,504.60 587.90,504.87 588.05,505.20 588.54,506.21 589.30,507.65 590.06,508.90 590.82,510.02 591.58,511.06 592.34,512.01 593.10,512.90 593.86,513.72 594.62,514.49 595.38,515.20 596.14,515.87 596.90,516.49 597.66,517.08 598.42,517.63 599.18,518.15 599.94,518.64 600.70,519.10 601.46,519.54 602.22,519.96 602.98,520.36 603.74,520.74 604.50,521.10 605.26,521.45 606.02,521.79 606.78,522.11 607.54,522.43 608.30,522.74 609.06,523.03 609.82,523.32 610.58,523.59 611.34,523.85 612.10,524.10 612.86,524.33 613.62,524.56 614.38,524.78 615.14,524.99 615.90,525.19 616.66,525.39 617.42,525.58 618.18,525.76 618.94,525.93 619.70,526.10 620.46,526.26 621.22,526.42 621.98,526.57 622.74,526.72 623.50,526.86 624.26,527.00 625.02,527.13 625.78,527.26 626.54,527.39 627.30,527.51 628.06,527.63 628.82,527.75 629.58,527.86 630.34,527.97 631.10,528.08 631.86,528.19 632.62,528.29 633.38,528.40 634.14,528.50 634.90,528.60 635.66,528.69 636.42,528.79 637.18,528.89 637.94,528.98 638.70,529.08 639.46,529.17 640.22,529.26 640.98,529.35 641.74,529.44 642.50,529.52 643.26,529.61 644.02,529.69 644.78,529.77 645.54,529.86 646.30,529.93 647.06,530.01 647.82,530.09 648.58,530.17 649.34,530.24 650.10,530.31 650.86,530.39 651.62,530.46 652.38,530.53 653.14,530.59 653.90,530.66 654.66,530.73 655.42,530.79 656.18,530.86 656.94,530.92 657.70,530.98 658.46,531.04 659.22,531.11 659.98,531.16 660.74,531.22 661.50,531.28 662.26,531.34 663.02,531.39 663.78,531.45 664.54,531.50 665.30,531.55 666.06,531.60 666.82,531.65 667.58,531.70 668.34,531.75 669.10,531.80 669.86,531.85 670.62,531.89 671.38,531.94 672.14,531.98 672.90,532.03 673.66,532.07 674.42,532.11 675.18,532.16 675.94,532.20 676.70,532.24 677.46,532.28 678.22,532.32 678.98,532.36 679.74,532.40 680.50,532.43 681.26,532.47 682.02,532.51 682.78,532.55 683.54,532.58 684.30,532.62 685.06,532.65 685.82,532.69 686.58,532.72 687.34,532.76 688.10,532.79 688.86,532.82 689.62,532.86 690.38,532.89 691.14,532.92 691.90,532.95 692.66,532.98 693.42,533.01 694.18,533.04 694.94,533.07 695.70,533.10 696.46,533.13 697.22,533.16 697.98,533.19 698.74,533.22 699.50,533.25" fill="none" stroke="#D95319" stroke-width="1.5" stroke-dasharray="5.4 5.7" stroke-dashoffset="0.00" stroke-linejoin="round"/>
<rect x="582.15" y="376.34999999999997" width="112.59999999999998" height="50.7" fill="none" stroke="#808000" stroke-width="5.3"/>
<rect x="636.3" y="373.7" width="5.5" height="56.0" fill="#808000"/>
<rect x="607.8" y="372.7" width="3.800000000000068" height="7.3" fill="#fff"/>
<rect x="663.9" y="372.7" width="3.8999999999999773" height="7.3" fill="#fff"/>
<rect x="575" y="398.8" width="127" height="4.2" fill="#fff"/>
<rect x="395.5" y="305.5" width="304.0" height="241.0" fill="none" stroke="#808080" stroke-width="1.0"/>
<path d="M456.30 546.5v-3M456.30 305.5v3M517.10 546.5v-3M517.10 305.5v3M577.90 546.5v-3M577.90 305.5v3M638.70 546.5v-3M638.70 305.5v3M395.5 486.25h3M699.5 486.25h-3M395.5 426.00h3M699.5 426.00h-3M395.5 365.75h3M699.5 365.75h-3" stroke="#808080" stroke-width="1.0" fill="none"/>
<text class="tk" transform="rotate(0.05 395.00 559.4)" x="395.00" y="559.4" text-anchor="middle">100</text>
<text class="tk" transform="rotate(0.05 455.80 559.4)" x="455.80" y="559.4" text-anchor="middle">110</text>
<text class="tk" transform="rotate(0.05 516.60 559.4)" x="516.60" y="559.4" text-anchor="middle">120</text>
<text class="tk" transform="rotate(0.05 577.40 559.4)" x="577.40" y="559.4" text-anchor="middle">130</text>
<text class="tk" transform="rotate(0.05 638.20 559.4)" x="638.20" y="559.4" text-anchor="middle">140</text>
<text class="tk" transform="rotate(0.05 699.00 559.4)" x="699.00" y="559.4" text-anchor="middle">150</text>
<text class="tk" transform="rotate(0.05 390.9 550.30)" x="390.9" y="550.30" text-anchor="end">0</text>
<text class="tk" transform="rotate(0.05 390.9 490.05)" x="390.9" y="490.05" text-anchor="end">0.25</text>
<text class="tk" transform="rotate(0.05 390.9 429.80)" x="390.9" y="429.80" text-anchor="end">0.5</text>
<text class="tk" transform="rotate(0.05 390.9 369.55)" x="390.9" y="369.55" text-anchor="end">0.75</text>
<text class="tk" transform="rotate(0.05 390.9 309.60)" x="390.9" y="309.60" text-anchor="end">1</text>
<text class="lb" transform="rotate(0.05 547.3 574.0)" x="547.3" y="574.0" text-anchor="middle">Frequency [MHz]</text>
<text class="cap" transform="rotate(0.05 545.5 594.5)" x="545.5" y="594.5" text-anchor="middle">(d)</text>
<text class="lb" letter-spacing="0.07" transform="translate(363.6,425.0) rotate(-89.95)" text-anchor="middle">Normalised |S<tspan dy="4.3" font-size="8.0">21</tspan><tspan dy="-4.3">|, |H</tspan><tspan dy="4.3" font-size="8.0">1</tspan><tspan dy="-4.3">|</tspan></text>
</g>
<g id="legend"><rect x="205.5" y="10.5" width="130.0" height="50.0" fill="#fff" stroke="#808080" stroke-width="1.0"/>
<line x1="208.3" x2="235.9" y1="19.6" y2="19.6" stroke="#0072BD" stroke-width="1.5"/>
<line x1="208.3" x2="235.9" y1="34.9" y2="34.9" stroke="#D95319" stroke-width="1.5" stroke-dasharray="5.4 5.7"/>
<line x1="208.3" x2="235.9" y1="51.0" y2="51.0" stroke="#8c8c8c" stroke-width="1.0" stroke-dasharray="6.7 4.58"/>
<text class="lg" transform="rotate(0.05 238.6 21.400000000000002)" x="238.6" y="21.400000000000002">Normalised |S<tspan dy="3.4" font-size="6.8">21</tspan><tspan dy="-3.4">| (exper.)</tspan></text>
<text class="lg" transform="rotate(0.05 238.6 36.699999999999996)" x="238.6" y="36.699999999999996">Normalised |H<tspan dy="3.4" font-size="6.8">1</tspan><tspan dy="-3.4">| (numer.)</tspan></text>
<text class="lg" transform="rotate(0.05 238.6 53.199999999999996)" x="238.6" y="53.199999999999996">f<tspan dy="3.4" font-size="6.8">0</tspan></text>
</g>
</g></svg></body></html>
